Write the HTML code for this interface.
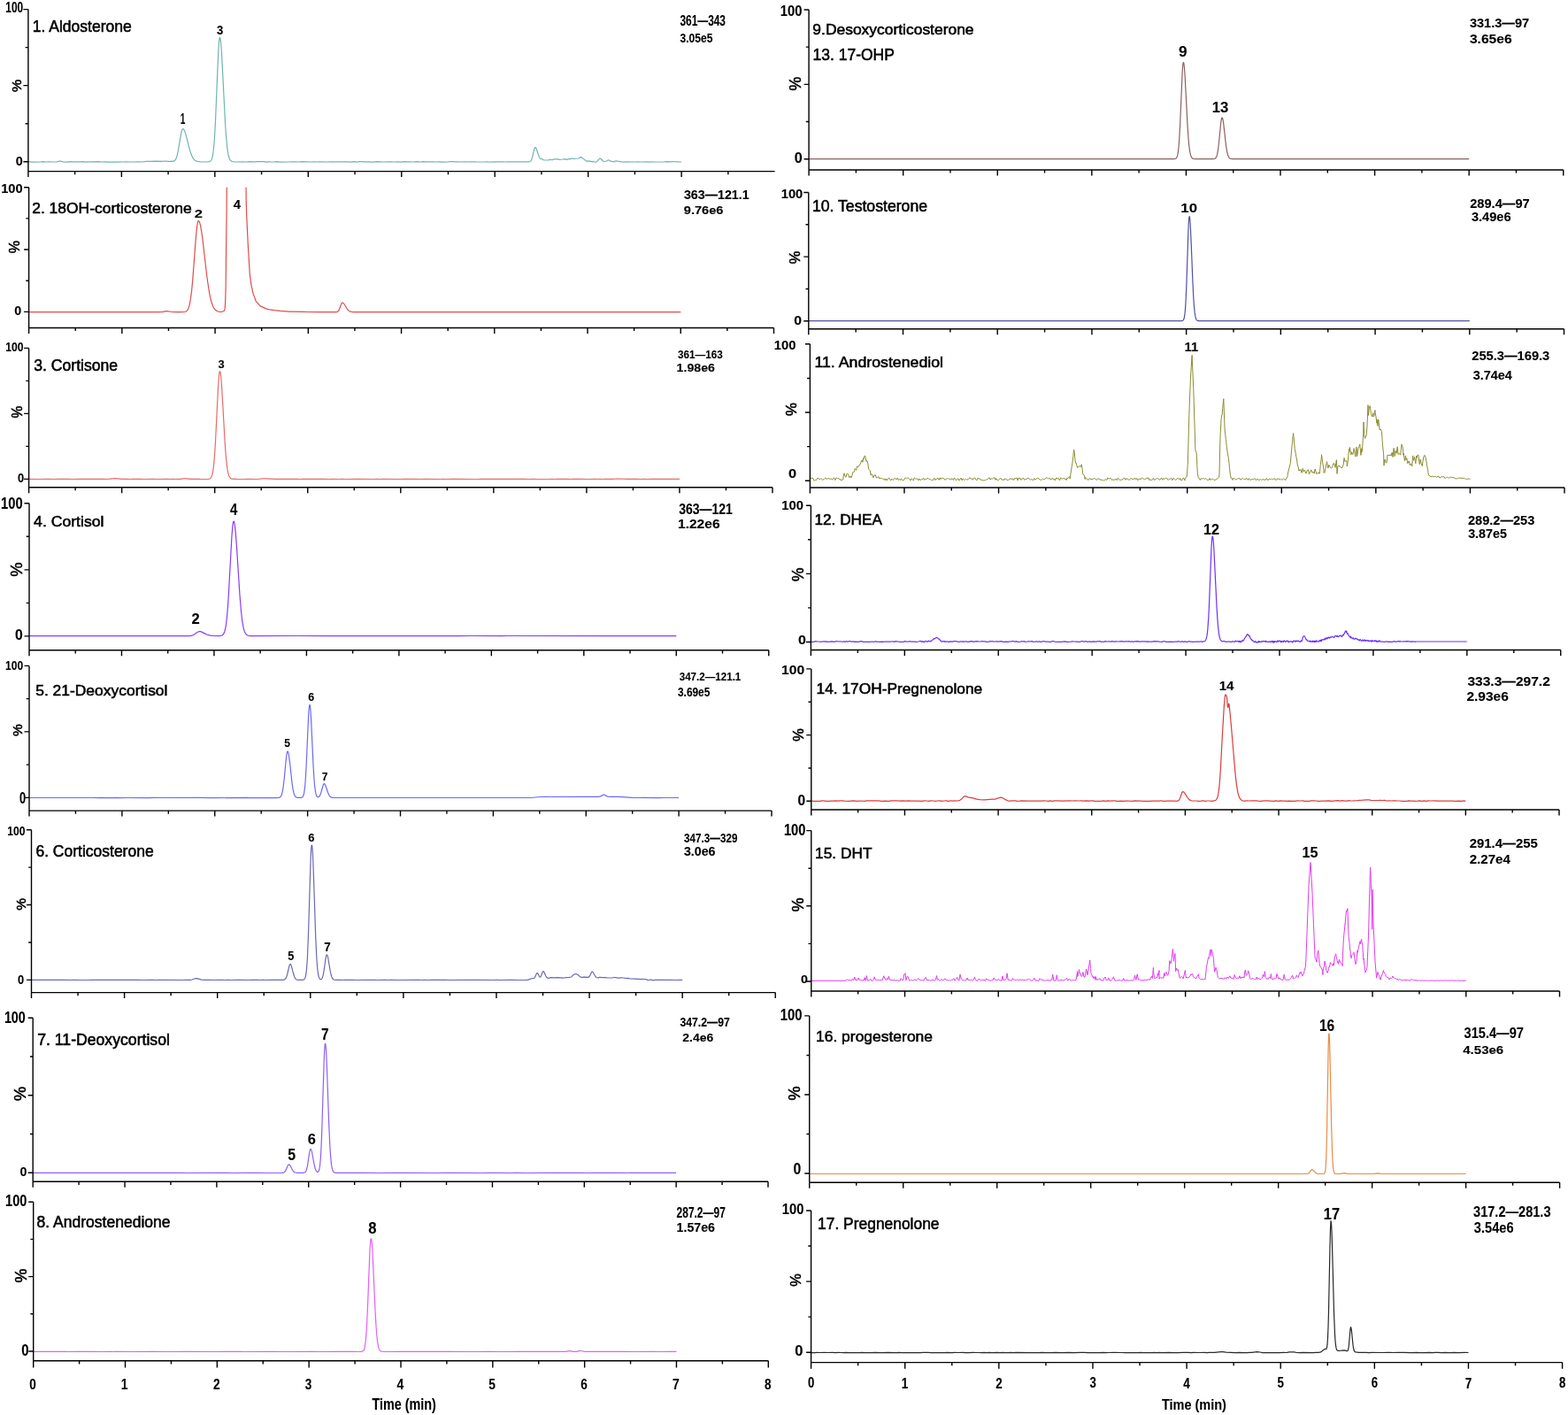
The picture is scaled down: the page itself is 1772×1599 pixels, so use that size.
<!DOCTYPE html><html><head><meta charset="utf-8"><title>Chromatograms</title><style>html,body{margin:0;padding:0;background:#fff}svg{display:block}text{font-family:"Liberation Sans",Arial,sans-serif;fill:#000}.r{font-weight:normal;stroke:#000;stroke-width:0.55px}.b{font-weight:bold;stroke:#000;stroke-width:0.1px}</style></head><body>
<svg width="1772" height="1599" viewBox="0 0 1772 1599"><rect width="1772" height="1599" fill="#fff"/>
<g>
<path d="M31.9,182.8 34.4,182.8 36.9,183.1 46.4,182.9 48.9,182.7 51.9,183.0 54.9,182.8 57.9,183.0 63.4,183.0 64.9,182.7 66.9,182.1 67.9,182.1 71.4,182.8 75.9,183.1 78.9,182.7 81.9,182.9 87.9,182.8 90.9,182.9 93.9,182.7 96.9,183.1 99.9,182.8 102.9,182.9 111.9,182.7 114.9,183.0 117.9,182.8 120.9,183.1 129.9,183.0 132.9,183.1 135.9,182.8 138.9,183.0 141.9,182.8 147.9,183.0 156.9,182.8 159.9,183.0 165.9,182.4 169.4,182.3 171.9,182.3 174.9,182.1 183.9,182.3 186.9,182.0 189.5,182.4 190.5,182.4 193.5,182.4 195.0,182.1 196.0,182.3 197.0,181.9 197.5,181.5 198.5,180.2 199.5,177.9 200.0,176.3 201.5,169.6 204.0,154.4 205.0,149.3 205.5,147.4 206.0,146.2 206.5,145.6 207.0,145.6 207.5,146.0 208.0,146.7 209.0,148.8 210.5,153.8 213.5,165.9 215.0,171.2 216.0,174.1 217.0,176.4 218.0,178.4 219.0,179.8 220.0,180.9 221.5,181.9 223.0,182.5 224.5,182.7 227.0,182.9 232.5,183.0 236.5,182.6 237.5,182.3 238.5,181.4 239.0,180.6 239.5,179.4 240.0,177.6 241.0,171.9 242.0,161.9 242.5,155.0 243.5,136.8 246.0,75.7 247.0,54.9 247.5,47.8 248.0,43.5 248.5,42.3 249.0,43.7 249.5,47.2 250.5,59.9 254.5,138.5 255.5,153.5 256.5,164.7 257.5,172.1 258.0,174.8 259.0,178.5 259.5,179.7 260.5,181.3 261.5,182.1 262.5,182.5 264.5,182.9 267.5,183.0 274.0,182.9 277.5,183.0 283.0,182.7 285.5,182.9 289.0,182.9 291.5,182.7 295.5,182.7 298.5,182.7 301.0,183.1 304.0,182.8 307.0,183.0 310.5,182.9 313.0,182.7 316.0,183.1 325.5,183.0 331.0,182.8 334.5,182.9 337.0,183.0 339.5,182.8 343.0,182.7 349.0,183.0 355.0,182.8 358.0,183.0 360.5,182.9 364.0,182.9 370.0,183.0 373.0,182.8 379.0,182.9 388.0,182.8 391.0,182.9 394.0,182.8 397.0,183.1 400.0,182.7 403.0,183.1 405.5,182.7 408.5,182.7 412.0,182.9 415.5,182.8 421.0,183.1 423.5,182.8 427.0,182.7 433.0,183.0 439.0,182.8 442.5,182.8 445.0,183.0 448.0,182.8 454.0,183.1 457.0,182.7 460.0,182.9 463.0,182.8 466.0,183.0 472.0,182.7 475.0,183.0 478.0,182.7 481.0,182.9 490.0,182.8 493.0,183.0 496.0,182.9 502.1,183.1 505.6,183.0 508.1,182.7 511.1,182.7 514.1,182.9 517.1,182.9 520.1,183.0 526.1,182.8 529.1,183.0 531.6,182.8 535.1,182.8 537.6,182.9 547.1,183.0 550.1,182.8 552.6,183.0 556.1,183.1 558.6,182.8 561.6,182.8 568.1,182.8 571.1,183.0 574.1,182.9 597.1,182.8 598.1,182.7 599.1,182.3 599.6,182.0 600.1,181.4 600.6,180.6 601.6,177.7 603.6,169.2 604.1,167.6 604.6,166.7 605.1,166.6 605.6,167.0 606.1,167.9 608.6,175.5 609.6,177.8 610.1,178.6 610.6,179.1 611.1,179.4 612.1,179.6 613.6,180.6 615.6,181.0 620.1,180.9 622.1,180.3 623.6,180.7 624.1,180.8 625.6,179.9 626.1,179.8 628.1,179.9 630.1,179.9 632.1,180.3 636.1,180.0 638.1,179.6 639.6,180.2 640.1,180.3 641.6,179.9 644.1,179.7 645.6,179.1 646.1,179.0 648.1,179.4 653.6,179.0 654.1,178.8 655.6,177.9 656.6,177.6 657.1,177.8 658.6,178.9 662.6,182.0 663.1,182.2 664.1,181.9 666.6,182.2 668.1,182.6 670.1,182.4 671.6,183.0 673.1,183.1 674.1,183.0 674.6,182.7 677.1,179.6 677.6,179.1 678.1,179.0 678.6,179.1 679.1,179.5 681.6,182.2 682.1,182.4 682.6,182.5 685.6,182.0 687.1,181.0 687.6,180.9 688.1,181.0 690.1,182.2 691.1,182.4 692.6,182.5 693.6,182.9 694.1,182.8 695.6,181.9 696.1,181.8 696.6,181.8 699.6,182.5 700.1,182.4 702.1,182.9 705.6,183.1 709.1,182.9 718.1,183.0 721.1,182.8 723.6,183.0 730.1,182.9 733.1,183.1 735.6,182.8 739.1,183.0 751.1,182.9 754.1,182.7 756.6,182.9 760.6,182.7 766.1,182.8 768.6,183.0 770.1,183.0" stroke="#72b2b2" stroke-width="1.2" fill="none" stroke-linejoin="round"/>
<path d="M31.9,10.6V193.6M26.4,10.6H31.9M28.6,53.64H31.9M26.4,96.67H31.9M28.6,139.71H31.9M26.4,182.75H31.9M31.9,193.6H875.6M31.9,193.6V200.1M84.63,193.6V197.2M137.36,193.6V200.1M190.09,193.6V197.2M242.83,193.6V200.1M295.56,193.6V197.2M348.29,193.6V200.1M401.02,193.6V197.2M453.75,193.6V200.1M506.48,193.6V197.2M559.21,193.6V200.1M611.94,193.6V197.2M664.68,193.6V200.1M717.41,193.6V197.2M770.14,193.6V200.1M822.87,193.6V197.2" stroke="#000" stroke-width="1.4" fill="none" stroke-linecap="butt"/>
<text class="b" x="6.36" y="13.74" font-size="15.83" textLength="19.83" lengthAdjust="spacingAndGlyphs">100</text>
<text class="r" transform="translate(18.65,97) rotate(-90)" x="-7.09" y="5.17" font-size="15" textLength="14.16" lengthAdjust="spacingAndGlyphs">%</text>
<text class="b" x="17.87" y="186.76" font-size="14.42" textLength="8.02" lengthAdjust="spacingAndGlyphs">0</text>
<text class="r" x="36.79" y="36.1" font-size="18.04" textLength="111.98" lengthAdjust="spacingAndGlyphs">1. Aldosterone</text>
<text class="b" x="768.48" y="28.55" font-size="15.85" textLength="51.46" lengthAdjust="spacingAndGlyphs">361—343</text>
<text class="b" x="768.48" y="47.81" font-size="15.49" textLength="36.87" lengthAdjust="spacingAndGlyphs">3.05e5</text>
<text class="b" x="203.77" y="140.2" font-size="16.73" textLength="5.62" lengthAdjust="spacingAndGlyphs">1</text>
<text class="b" x="245.01" y="38.71" font-size="15.49" textLength="7.27" lengthAdjust="spacingAndGlyphs">3</text>
</g>
<g>
<clipPath id="clip1"><rect x="32.6" y="211.7" width="900" height="400"/></clipPath>
<path d="M32.6,352.6 35.1,352.7 41.1,352.6 44.1,352.7 47.1,352.6 71.1,352.7 79.6,352.6 92.1,352.7 101.1,352.6 104.1,352.7 107.1,352.6 116.1,352.7 119.1,352.6 122.1,352.7 143.1,352.7 146.1,352.6 152.1,352.7 173.1,352.6 179.1,352.7 184.1,352.4 187.6,351.7 188.6,351.6 194.6,352.5 199.6,352.7 203.1,352.7 208.1,352.5 209.1,352.3 210.1,352.0 211.1,351.3 211.6,350.8 212.6,349.1 213.1,347.9 214.1,344.6 214.6,342.3 215.6,336.4 216.6,328.4 217.6,318.1 221.1,272.1 222.1,260.7 223.1,252.9 223.6,250.6 224.1,249.6 224.6,249.6 225.1,250.3 225.6,251.4 226.6,255.1 227.6,260.6 229.1,271.4 233.1,306.2 234.6,318.0 236.6,330.9 237.6,335.9 238.6,340.0 239.6,343.3 241.1,347.0 242.1,348.7 243.6,350.4 244.6,351.1 246.1,351.8 247.1,352.2 248.6,352.5 249.6,352.4 251.6,352.1 252.1,352.0 253.1,351.4 253.6,350.7 254.1,348.9 254.6,343.0 255.1,327.4 256.1,237.7 256.6,172.7 257.1,152.6 260.2,152.6 263.2,152.7 277.2,152.7 277.7,170.3 278.2,227.5 278.7,242.8 280.2,275.3 282.2,308.8 283.7,320.3 284.2,323.3 285.7,330.1 286.2,332.1 289.2,340.3 294.2,345.9 300.7,348.9 304.7,349.8 309.7,350.6 317.2,351.4 326.7,352.1 330.2,352.2 344.2,352.3 346.7,352.5 360.2,352.7 365.2,352.6 379.7,352.7 381.2,352.3 382.2,351.5 382.7,350.9 383.7,348.8 385.7,343.4 386.2,342.5 386.7,342.1 387.2,342.2 387.7,342.4 388.7,343.3 392.2,348.8 393.2,350.1 394.2,351.1 395.2,351.8 396.2,352.2 397.7,352.5 399.2,352.7 413.2,352.6 419.2,352.7 425.2,352.6 437.2,352.7 443.2,352.6 451.7,352.7 455.2,352.6 478.7,352.7 488.2,352.6 494.2,352.6 497.2,352.7 503.2,352.6 539.2,352.7 545.2,352.6 556.7,352.7 586.7,352.6 592.7,352.7 599.2,352.6 608.2,352.7 623.2,352.6 628.7,352.7 632.2,352.6 638.2,352.7 643.7,352.6 653.2,352.7 662.2,352.6 685.7,352.7 691.7,352.6 695.2,352.7 698.2,352.6 719.3,352.7 724.8,352.6 728.3,352.7 730.8,352.6 733.8,352.7 737.3,352.6 749.3,352.7 758.3,352.6 763.8,352.7 769.3,352.6" stroke="#e04c4c" stroke-width="1.2" fill="none" stroke-linejoin="round" clip-path="url(#clip1)"/>
<path d="M32.6,211.7V370.5M27.1,211.7H32.6M29.3,246.88H32.6M27.1,282.05H32.6M29.3,317.22H32.6M27.1,352.4H32.6M32.6,370.5H874.5M32.6,370.5V377M85.22,370.5V374.1M137.84,370.5V377M190.46,370.5V374.1M243.07,370.5V377M295.69,370.5V374.1M348.31,370.5V377M400.93,370.5V374.1M453.55,370.5V377M506.17,370.5V374.1M558.79,370.5V377M611.41,370.5V374.1M664.02,370.5V377M716.64,370.5V374.1M769.26,370.5V377M821.88,370.5V374.1M874.5,370.5V377" stroke="#000" stroke-width="1.4" fill="none" stroke-linecap="butt"/>
<text class="b" x="1.18" y="217.76" font-size="14.13" textLength="24.52" lengthAdjust="spacingAndGlyphs">100</text>
<text class="r" transform="translate(15.8,279.1) rotate(-90)" x="-7.18" y="5.91" font-size="17.14" textLength="14.35" lengthAdjust="spacingAndGlyphs">%</text>
<text class="b" x="16.33" y="356.36" font-size="13.99" textLength="7.96" lengthAdjust="spacingAndGlyphs">0</text>
<text class="r" x="36.23" y="240.6" font-size="17.16" textLength="180.43" lengthAdjust="spacingAndGlyphs">2. 18OH-corticosterone</text>
<text class="b" x="772.93" y="224.82" font-size="14.08" textLength="73.73" lengthAdjust="spacingAndGlyphs">363—121.1</text>
<text class="b" x="772.74" y="241.87" font-size="13.43" textLength="44.79" lengthAdjust="spacingAndGlyphs">9.76e6</text>
<text class="b" x="219.82" y="245.7" font-size="13.33" textLength="9.22" lengthAdjust="spacingAndGlyphs">2</text>
<text class="b" x="263.78" y="235.5" font-size="14.4" textLength="8.32" lengthAdjust="spacingAndGlyphs">4</text>
</g>
<g>
<path d="M32.6,541.4 42.1,541.5 54.1,541.4 60.1,541.5 66.1,541.3 78.1,541.3 81.1,541.5 89.6,541.3 93.1,541.4 96.1,541.3 108.1,541.3 113.6,541.4 117.1,541.3 120.1,541.5 124.6,541.2 130.6,540.7 137.6,541.4 144.1,541.3 147.1,541.5 150.1,541.3 159.1,541.3 162.1,541.5 174.1,541.3 177.1,541.5 189.1,541.3 191.6,541.5 195.1,541.3 198.1,541.5 200.6,541.3 204.1,541.4 207.6,540.9 210.1,540.8 216.1,541.4 219.1,541.3 222.1,541.4 225.1,541.3 227.6,541.5 233.6,541.5 235.6,541.4 237.1,541.0 238.1,540.2 238.6,539.5 239.6,537.2 240.6,532.8 241.6,525.3 242.6,513.6 243.6,497.2 246.6,436.3 247.6,423.3 248.1,420.2 248.6,419.6 249.1,421.2 249.6,424.8 250.6,436.8 254.1,498.7 255.1,512.9 256.1,523.6 257.1,530.9 257.6,533.6 258.6,537.2 259.1,538.5 260.1,540.0 261.1,540.8 262.1,541.2 266.6,541.4 276.1,541.5 279.5,541.3 290.5,541.5 297.0,540.9 300.0,540.8 311.5,541.4 330.0,541.3 333.0,541.4 336.0,541.3 339.0,541.5 342.0,541.4 348.0,541.4 366.0,541.3 372.0,541.5 375.0,541.3 383.5,541.5 387.0,541.3 390.0,541.5 405.0,541.3 423.0,541.5 426.0,541.3 429.0,541.5 432.0,541.3 453.0,541.5 456.0,541.4 459.0,541.4 468.0,541.3 477.0,541.5 480.0,541.4 498.0,541.5 501.0,541.3 504.0,541.5 516.0,541.4 534.0,541.5 540.0,541.5 543.0,541.3 555.0,541.4 567.0,541.3 570.0,541.4 576.0,541.4 588.0,541.3 594.0,541.3 597.0,541.5 603.0,541.3 606.0,541.5 621.0,541.5 624.0,541.4 627.0,541.5 630.0,541.3 633.0,541.4 642.0,541.3 645.0,541.5 648.0,541.3 654.0,541.3 666.0,541.5 672.0,541.4 675.0,541.5 678.0,541.4 681.0,541.5 684.0,541.3 691.5,541.3 699.0,541.0 708.5,541.3 720.5,541.3 723.0,541.5 729.0,541.3 732.0,541.5 735.0,541.3 756.0,541.3 768.0,541.4" stroke="#e66a6a" stroke-width="1.2" fill="none" stroke-linejoin="round"/>
<path d="M32.6,393.4V550.7M27.1,393.4H32.6M29.3,430.4H32.6M27.1,467.4H32.6M29.3,504.4H32.6M27.1,541.4H32.6M32.6,550.7H873M32.6,550.7V557.2M85.12,550.7V554.3M137.65,550.7V557.2M190.17,550.7V554.3M242.7,550.7V557.2M295.23,550.7V554.3M347.75,550.7V557.2M400.28,550.7V554.3M452.8,550.7V557.2M505.32,550.7V554.3M557.85,550.7V557.2M610.38,550.7V554.3M662.9,550.7V557.2M715.42,550.7V554.3M767.95,550.7V557.2M820.48,550.7V554.3M873,550.7V557.2" stroke="#000" stroke-width="1.4" fill="none" stroke-linecap="butt"/>
<text class="b" x="6.24" y="396.76" font-size="13.99" textLength="20.26" lengthAdjust="spacingAndGlyphs">100</text>
<text class="r" transform="translate(19.65,465.5) rotate(-90)" x="-6.92" y="5.57" font-size="16.14" textLength="13.82" lengthAdjust="spacingAndGlyphs">%</text>
<text class="b" x="19.89" y="545.46" font-size="13.71" textLength="7.14" lengthAdjust="spacingAndGlyphs">0</text>
<text class="r" x="38.14" y="418.9" font-size="17.75" textLength="95.04" lengthAdjust="spacingAndGlyphs">3. Cortisone</text>
<text class="b" x="765.99" y="405.34" font-size="13.03" textLength="50.7" lengthAdjust="spacingAndGlyphs">361—163</text>
<text class="b" x="764.61" y="420.37" font-size="13.07" textLength="43.4" lengthAdjust="spacingAndGlyphs">1.98e6</text>
<text class="b" x="246.41" y="415.75" font-size="12.39" textLength="7.15" lengthAdjust="spacingAndGlyphs">3</text>
</g>
<g>
<path d="M33.0,718.6 212.9,718.6 215.9,718.3 217.9,717.8 219.9,716.7 223.4,714.2 224.4,713.8 225.4,713.6 226.4,713.7 227.9,714.1 231.9,716.1 234.4,717.2 235.9,717.7 237.9,718.2 240.9,718.5 247.9,718.6 249.4,718.4 250.9,718.0 251.9,717.3 252.4,716.7 253.4,714.9 253.9,713.5 254.9,709.3 255.4,706.3 256.4,698.0 257.4,686.3 258.4,671.1 261.9,606.7 262.9,594.4 263.4,590.8 263.9,589.1 264.4,589.3 264.9,590.9 265.4,593.9 266.4,603.4 267.4,616.7 270.9,671.4 272.4,689.8 273.4,698.9 273.9,702.6 274.9,708.4 275.4,710.6 276.4,713.8 277.4,715.8 278.4,717.1 279.4,717.8 280.9,718.3 282.9,718.6 287.9,718.7 335.9,718.5 368.9,718.7 380.9,718.6 383.9,718.7 395.9,718.5 425.9,718.7 428.9,718.5 479.9,718.7 497.9,718.6 518.9,718.7 530.9,718.5 566.8,718.6 572.8,718.5 680.8,718.6 689.8,718.7 747.3,718.6 752.8,718.7 758.8,718.5 764.3,718.6" stroke="#873cfa" stroke-width="1.2" fill="none" stroke-linejoin="round"/>
<path d="M33,568.8V734.8M27.5,568.8H33M29.7,606.32H33M27.5,643.85H33M29.7,681.38H33M27.5,718.9H33M33,734.8H868.75M33,734.8V741.3M85.23,734.8V738.4M137.47,734.8V741.3M189.7,734.8V738.4M241.94,734.8V741.3M294.17,734.8V738.4M346.41,734.8V741.3M398.64,734.8V738.4M450.88,734.8V741.3M503.11,734.8V738.4M555.34,734.8V741.3M607.58,734.8V738.4M659.81,734.8V741.3M712.05,734.8V738.4M764.28,734.8V741.3M816.52,734.8V738.4M868.75,734.8V741.3" stroke="#000" stroke-width="1.4" fill="none" stroke-linecap="butt"/>
<text class="b" x="1.08" y="575.42" font-size="17.95" textLength="24.63" lengthAdjust="spacingAndGlyphs">100</text>
<text class="r" transform="translate(18.6,643.5) rotate(-90)" x="-8.15" y="6.6" font-size="19.14" textLength="16.29" lengthAdjust="spacingAndGlyphs">%</text>
<text class="b" x="16.97" y="723.14" font-size="15.97" textLength="8.78" lengthAdjust="spacingAndGlyphs">0</text>
<text class="r" x="38.1" y="594.7" font-size="17.16" textLength="79.37" lengthAdjust="spacingAndGlyphs">4. Cortisol</text>
<text class="b" x="767.18" y="581.05" font-size="15.85" textLength="60.73" lengthAdjust="spacingAndGlyphs">363—121</text>
<text class="b" x="766.03" y="597.36" font-size="14.13" textLength="47.53" lengthAdjust="spacingAndGlyphs">1.22e6</text>
<text class="b" x="259.88" y="582" font-size="18.18" textLength="8.32" lengthAdjust="spacingAndGlyphs">4</text>
<text class="b" x="216.42" y="705.3" font-size="16.63" textLength="9.22" lengthAdjust="spacingAndGlyphs">2</text>
</g>
<g>
<path d="M33.0,901.5 105.0,901.5 108.0,901.4 111.0,901.6 114.0,901.4 123.0,901.6 132.0,901.4 135.0,901.6 144.0,901.5 168.0,901.6 174.0,901.4 186.0,901.5 225.0,901.4 240.0,901.6 279.0,901.4 282.0,901.6 285.0,901.5 312.0,901.6 315.0,901.4 316.0,901.1 316.5,900.8 317.5,899.7 318.5,897.4 319.5,893.1 320.0,889.9 321.0,881.7 323.5,856.0 324.0,852.3 324.5,849.9 325.0,849.0 325.5,849.5 326.0,851.2 326.5,854.1 327.6,862.3 330.1,885.6 331.1,892.2 332.1,896.5 333.1,899.1 333.6,899.9 334.6,900.8 335.6,901.2 336.6,901.4 340.1,901.4 341.1,901.2 341.6,900.9 342.1,900.4 342.6,899.6 343.1,898.3 343.6,896.2 344.1,893.1 344.6,888.8 345.1,883.0 346.1,866.3 348.6,809.5 349.1,801.7 349.6,797.2 350.1,796.4 350.6,799.1 351.1,804.8 351.6,813.1 354.1,866.6 355.1,882.2 355.6,887.8 356.6,895.2 357.1,897.5 357.6,898.9 358.1,899.9 358.6,900.5 359.1,900.7 359.6,900.8 360.1,900.6 360.6,900.2 361.6,898.8 362.6,896.3 365.1,887.5 365.6,886.3 366.1,885.7 366.6,885.7 367.1,886.2 368.1,888.2 370.6,895.7 372.1,899.0 373.1,900.3 374.1,900.9 375.6,901.3 377.6,901.5 599.6,901.5 610.1,900.5 611.6,900.5 618.1,900.4 621.1,900.5 660.1,900.4 669.1,900.4 676.1,900.3 677.6,900.2 678.6,899.9 679.6,899.4 681.1,898.3 682.1,898.0 683.1,898.1 685.1,899.4 686.1,899.9 687.1,900.1 689.1,900.3 700.1,900.3 714.1,901.3 719.6,901.5 726.1,901.4 744.1,901.6 749.6,901.5 767.1,901.5" stroke="#6969fa" stroke-width="1.2" fill="none" stroke-linejoin="round"/>
<path d="M33,752.4V916.1M27.5,752.4H33M29.7,789.65H33M27.5,826.9H33M29.7,864.15H33M27.5,901.4H33M33,916.1H872M33,916.1V922.6M85.44,916.1V919.7M137.88,916.1V922.6M190.31,916.1V919.7M242.75,916.1V922.6M295.19,916.1V919.7M347.62,916.1V922.6M400.06,916.1V919.7M452.5,916.1V922.6M504.94,916.1V919.7M557.38,916.1V922.6M609.81,916.1V919.7M662.25,916.1V922.6M714.69,916.1V919.7M767.12,916.1V922.6M819.56,916.1V919.7M872,916.1V922.6" stroke="#000" stroke-width="1.4" fill="none" stroke-linecap="butt"/>
<text class="b" x="6.05" y="757.46" font-size="14.13" textLength="20.15" lengthAdjust="spacingAndGlyphs">100</text>
<text class="r" transform="translate(19.95,825) rotate(-90)" x="-6.9" y="5.27" font-size="15.29" textLength="13.79" lengthAdjust="spacingAndGlyphs">%</text>
<text class="b" x="21.89" y="907.82" font-size="17.53" textLength="7.14" lengthAdjust="spacingAndGlyphs">0</text>
<text class="r" x="40.2" y="786" font-size="17.16" textLength="149.26" lengthAdjust="spacingAndGlyphs">5. 21-Deoxycortisol</text>
<text class="b" x="767.74" y="769.33" font-size="13.38" textLength="69.58" lengthAdjust="spacingAndGlyphs">347.2—121.1</text>
<text class="b" x="765.98" y="787.32" font-size="14.08" textLength="36.36" lengthAdjust="spacingAndGlyphs">3.69e5</text>
<text class="b" x="321.24" y="844.47" font-size="12.62" textLength="6.71" lengthAdjust="spacingAndGlyphs">5</text>
<text class="b" x="348.23" y="792.07" font-size="12.86" textLength="6.92" lengthAdjust="spacingAndGlyphs">6</text>
<text class="b" x="363.78" y="881.7" font-size="13.24" textLength="6.75" lengthAdjust="spacingAndGlyphs">7</text>
</g>
<g>
<path d="M35.5,1107.4 51.0,1107.3 54.0,1107.4 72.0,1107.3 81.0,1107.5 84.0,1107.3 89.5,1107.5 99.0,1107.5 105.0,1107.3 126.0,1107.4 129.0,1107.3 138.0,1107.4 156.0,1107.3 162.0,1107.5 171.0,1107.3 177.0,1107.5 180.0,1107.3 207.0,1107.5 209.5,1107.3 213.0,1107.4 215.5,1107.3 217.0,1107.0 220.5,1105.8 222.0,1105.7 223.5,1105.9 227.5,1107.1 231.0,1107.4 237.0,1107.3 240.0,1107.5 249.0,1107.3 255.0,1107.5 258.0,1107.3 261.0,1107.5 270.0,1107.3 282.1,1107.5 284.6,1107.3 291.1,1107.3 293.6,1107.5 297.1,1107.3 300.1,1107.5 306.1,1107.4 319.6,1107.4 321.1,1107.2 322.1,1106.7 323.1,1105.5 323.6,1104.5 324.6,1101.5 326.6,1092.6 327.1,1090.8 327.6,1089.7 328.1,1089.4 328.6,1089.8 329.1,1090.9 329.6,1092.4 331.6,1100.3 332.6,1103.5 333.1,1104.6 334.1,1106.2 335.1,1107.0 336.6,1107.3 341.6,1107.4 343.1,1107.2 343.6,1106.9 344.1,1106.4 344.6,1105.5 345.1,1104.2 345.6,1102.0 346.1,1098.7 346.6,1093.9 347.1,1087.2 347.6,1078.2 348.6,1052.8 351.1,970.7 351.6,960.4 352.1,955.0 352.6,955.0 353.1,959.6 353.6,968.3 354.6,994.7 356.6,1055.5 357.6,1077.9 358.1,1086.2 358.6,1092.6 359.1,1097.3 359.6,1100.8 360.1,1103.2 360.6,1104.8 361.1,1105.8 361.6,1106.4 362.1,1106.7 362.6,1106.8 363.1,1106.6 363.6,1106.1 364.1,1105.3 364.6,1104.0 365.1,1102.2 366.1,1096.8 368.1,1082.7 368.6,1080.3 369.1,1079.1 369.6,1079.1 370.1,1080.1 370.6,1081.9 373.1,1096.7 374.1,1101.5 374.6,1103.2 375.6,1105.5 376.6,1106.7 377.6,1107.1 379.6,1107.4 384.1,1107.3 387.1,1107.5 390.1,1107.3 393.1,1107.4 399.1,1107.4 402.1,1107.5 423.1,1107.3 426.1,1107.5 435.1,1107.4 438.1,1107.5 441.1,1107.4 450.1,1107.5 472.1,1107.3 476.6,1107.5 480.1,1107.4 483.1,1107.5 489.1,1107.3 495.1,1107.4 504.1,1107.3 507.1,1107.5 534.1,1107.3 558.1,1107.5 561.1,1107.3 564.1,1107.5 579.1,1107.3 585.1,1107.5 595.6,1107.4 596.1,1107.3 599.6,1106.4 600.1,1106.0 601.6,1105.6 602.1,1105.5 603.1,1105.5 603.6,1105.4 604.1,1105.0 604.6,1104.3 606.1,1100.7 606.6,1099.8 607.1,1099.5 607.6,1099.8 608.1,1100.6 609.6,1103.7 610.1,1104.2 610.6,1104.1 611.1,1103.6 611.6,1102.5 613.1,1098.5 613.6,1097.8 614.1,1097.6 614.6,1098.0 615.1,1098.9 616.6,1102.6 617.6,1104.3 618.6,1105.1 619.6,1105.4 620.1,1105.4 621.6,1104.8 622.1,1104.7 626.1,1104.8 630.1,1104.7 636.1,1105.1 638.1,1105.0 640.1,1104.6 643.6,1104.4 645.6,1104.0 646.1,1103.7 648.1,1101.6 649.1,1101.0 650.6,1100.6 651.6,1100.7 652.6,1101.2 654.1,1102.3 655.6,1103.8 656.6,1104.3 658.1,1104.4 660.1,1104.2 664.6,1104.4 665.6,1103.9 666.6,1102.7 668.6,1098.4 669.1,1098.0 669.6,1098.1 670.1,1098.7 673.1,1103.7 673.6,1104.2 674.1,1104.5 675.6,1104.8 676.1,1104.9 677.6,1104.4 678.1,1104.3 680.1,1104.6 681.6,1104.5 684.1,1104.6 685.6,1104.9 692.1,1105.0 693.6,1104.5 694.1,1104.5 696.1,1104.6 698.1,1105.2 700.1,1105.2 702.1,1104.9 704.1,1105.0 708.1,1105.6 710.1,1105.4 711.6,1106.0 712.1,1106.0 718.1,1106.1 720.1,1106.4 721.6,1106.3 724.1,1106.6 725.6,1106.4 727.6,1106.5 730.1,1106.7 731.6,1107.4 732.1,1107.5 734.1,1107.5 735.6,1107.1 736.1,1107.1 737.6,1107.7 738.1,1107.8 740.1,1107.4 747.2,1107.4 750.2,1107.3 753.2,1107.4 756.2,1107.3 762.7,1107.5 771.2,1107.3" stroke="#6969b4" stroke-width="1.2" fill="none" stroke-linejoin="round"/>
<path d="M35.5,937.7V1121.6M30,937.7H35.5M32.2,980.12H35.5M30,1022.55H35.5M32.2,1064.98H35.5M30,1107.4H35.5M35.5,1121.6H876.25M35.5,1121.6V1128.1M88.05,1121.6V1125.2M140.59,1121.6V1128.1M193.14,1121.6V1125.2M245.69,1121.6V1128.1M298.23,1121.6V1125.2M350.78,1121.6V1128.1M403.33,1121.6V1125.2M455.88,1121.6V1128.1M508.42,1121.6V1125.2M560.97,1121.6V1128.1M613.52,1121.6V1125.2M666.06,1121.6V1128.1M718.61,1121.6V1125.2M771.16,1121.6V1128.1M823.7,1121.6V1125.2M876.25,1121.6V1128.1" stroke="#000" stroke-width="1.4" fill="none" stroke-linecap="butt"/>
<text class="b" x="8.24" y="943.74" font-size="15.55" textLength="20.26" lengthAdjust="spacingAndGlyphs">100</text>
<text class="r" transform="translate(23.4,1022) rotate(-90)" x="-6.87" y="5.22" font-size="15.14" textLength="13.72" lengthAdjust="spacingAndGlyphs">%</text>
<text class="b" x="19.89" y="1112.15" font-size="14.7" textLength="7.14" lengthAdjust="spacingAndGlyphs">0</text>
<text class="r" x="40.43" y="968.2" font-size="18.04" textLength="133.22" lengthAdjust="spacingAndGlyphs">6. Corticosterone</text>
<text class="b" x="772.99" y="951.81" font-size="15.14" textLength="60.43" lengthAdjust="spacingAndGlyphs">347.3—329</text>
<text class="b" x="772.93" y="966.82" font-size="14.08" textLength="35.57" lengthAdjust="spacingAndGlyphs">3.0e6</text>
<text class="b" x="325.32" y="1084.96" font-size="14.48" textLength="7.04" lengthAdjust="spacingAndGlyphs">5</text>
<text class="b" x="348.21" y="951.17" font-size="13.43" textLength="7.26" lengthAdjust="spacingAndGlyphs">6</text>
<text class="b" x="366.23" y="1075" font-size="14.84" textLength="7.46" lengthAdjust="spacingAndGlyphs">7</text>
</g>
<g>
<path d="M37.2,1325.4 166.2,1325.3 177.7,1325.4 183.7,1325.3 187.2,1325.4 205.2,1325.4 210.7,1325.5 241.2,1325.4 262.2,1325.5 289.2,1325.3 301.2,1325.5 318.2,1325.4 320.2,1325.2 321.2,1324.7 321.7,1324.3 322.2,1323.7 323.2,1321.9 325.2,1317.2 325.7,1316.4 326.2,1316.0 326.7,1315.9 327.2,1316.2 328.2,1317.6 330.2,1321.6 331.2,1323.2 331.7,1323.8 332.7,1324.6 333.7,1325.0 335.7,1325.4 342.7,1325.3 343.7,1325.2 344.7,1324.8 345.2,1324.3 345.7,1323.6 346.2,1322.4 347.2,1318.6 347.7,1315.9 349.2,1305.6 350.2,1300.0 350.7,1298.6 351.2,1298.4 351.7,1299.1 352.2,1300.6 352.7,1302.8 355.2,1316.5 356.2,1320.5 356.7,1321.9 357.7,1323.7 358.2,1324.2 358.7,1324.4 359.2,1324.4 359.7,1324.1 360.2,1323.3 360.7,1321.8 361.2,1319.4 361.7,1315.7 362.2,1310.2 362.7,1302.6 363.7,1279.9 366.2,1198.2 366.7,1186.8 367.2,1180.3 367.7,1179.3 368.2,1182.7 368.7,1189.9 369.2,1200.2 371.7,1269.9 372.7,1292.4 373.2,1301.0 374.2,1313.1 374.7,1317.0 375.2,1319.8 375.7,1321.8 376.2,1323.1 376.7,1324.0 377.2,1324.6 378.2,1325.1 379.7,1325.4 382.2,1325.4 409.2,1325.3 427.2,1325.5 454.2,1325.3 493.2,1325.5 507.7,1325.4 543.7,1325.5 556.2,1325.3 577.2,1325.5 583.2,1325.4 595.2,1325.5 625.2,1325.3 640.2,1325.4 658.2,1325.3 661.2,1325.5 672.7,1325.4 676.2,1325.4 703.2,1325.3 709.2,1325.5 712.2,1325.3 739.2,1325.4 764.1,1325.4" stroke="#8c5ffa" stroke-width="1.2" fill="none" stroke-linejoin="round"/>
<path d="M37.2,1150.2V1335.3M31.7,1150.2H37.2M33.9,1193.97H37.2M31.7,1237.75H37.2M33.9,1281.53H37.2M31.7,1325.3H37.2M37.2,1335.3H868M37.2,1335.3V1341.8M89.12,1335.3V1338.9M141.05,1335.3V1341.8M192.97,1335.3V1338.9M244.9,1335.3V1341.8M296.82,1335.3V1338.9M348.75,1335.3V1341.8M400.67,1335.3V1338.9M452.6,1335.3V1341.8M504.52,1335.3V1338.9M556.45,1335.3V1341.8M608.38,1335.3V1338.9M660.3,1335.3V1341.8M712.23,1335.3V1338.9M764.15,1335.3V1341.8M816.08,1335.3V1338.9M868,1335.3V1341.8" stroke="#000" stroke-width="1.4" fill="none" stroke-linecap="butt"/>
<text class="b" x="4.91" y="1155.91" font-size="18.52" textLength="23.88" lengthAdjust="spacingAndGlyphs">100</text>
<text class="r" transform="translate(22.35,1236) rotate(-90)" x="-8.1" y="6.26" font-size="18.14" textLength="16.19" lengthAdjust="spacingAndGlyphs">%</text>
<text class="b" x="22.53" y="1328.85" font-size="14.7" textLength="7.96" lengthAdjust="spacingAndGlyphs">0</text>
<text class="r" x="42.22" y="1181.3" font-size="17.45" textLength="149.67" lengthAdjust="spacingAndGlyphs">7. 11-Deoxycortisol</text>
<text class="b" x="768.48" y="1159.82" font-size="14.08" textLength="56.32" lengthAdjust="spacingAndGlyphs">347.2—97</text>
<text class="b" x="771.26" y="1177.37" font-size="13.43" textLength="34.98" lengthAdjust="spacingAndGlyphs">2.4e6</text>
<text class="b" x="325.22" y="1311.42" font-size="18.06" textLength="8.83" lengthAdjust="spacingAndGlyphs">5</text>
<text class="b" x="347.69" y="1292.83" font-size="16.96" textLength="9.11" lengthAdjust="spacingAndGlyphs">6</text>
<text class="b" x="362.94" y="1175" font-size="18.04" textLength="8.64" lengthAdjust="spacingAndGlyphs">7</text>
</g>
<g>
<path d="M37.7,1527.4 74.2,1527.4 77.2,1527.5 86.7,1527.3 92.2,1527.4 104.2,1527.3 116.2,1527.5 125.2,1527.3 127.7,1527.5 131.2,1527.4 146.2,1527.5 173.2,1527.4 191.2,1527.5 212.1,1527.4 242.1,1527.5 271.6,1527.4 275.1,1527.5 305.1,1527.4 326.1,1527.5 353.1,1527.4 359.1,1527.5 383.1,1527.4 395.1,1527.4 398.1,1527.3 404.1,1527.5 408.1,1527.4 409.6,1527.1 410.6,1526.4 411.1,1525.7 411.6,1524.6 412.1,1522.8 412.6,1520.2 413.1,1516.5 414.1,1504.9 414.6,1496.5 415.6,1474.4 417.6,1421.4 418.1,1410.9 418.6,1403.5 419.1,1399.8 419.6,1399.8 420.1,1402.9 420.6,1408.7 421.1,1416.8 424.1,1482.6 425.1,1499.8 425.6,1506.5 426.6,1516.2 427.6,1522.0 428.1,1523.7 428.6,1525.0 429.1,1525.8 429.6,1526.4 430.6,1527.0 431.6,1527.2 433.1,1527.4 439.6,1527.5 452.1,1527.4 500.1,1527.4 503.1,1527.3 530.0,1527.5 554.0,1527.4 566.0,1527.5 587.0,1527.4 635.0,1527.4 639.5,1527.3 642.5,1526.7 643.5,1526.6 644.5,1526.7 647.5,1527.3 650.0,1527.4 651.5,1527.3 654.5,1526.6 655.5,1526.4 656.5,1526.5 659.5,1527.2 662.0,1527.4 692.0,1527.4 704.0,1527.3 719.0,1527.5 737.0,1527.4 746.0,1527.5 755.0,1527.4 764.5,1527.4" stroke="#e15ffa" stroke-width="1.2" fill="none" stroke-linejoin="round"/>
<path d="M37.7,1358.2V1537.8M32.2,1358.2H37.7M34.4,1400.4H37.7M32.2,1442.6H37.7M34.4,1484.8H37.7M32.2,1527H37.7M37.7,1537.8H868.3M37.7,1537.8V1545.4M89.61,1537.8V1541.4M141.52,1537.8V1545.4M193.44,1537.8V1541.4M245.35,1537.8V1545.4M297.26,1537.8V1541.4M349.17,1537.8V1545.4M401.09,1537.8V1541.4M453,1537.8V1545.4M504.91,1537.8V1541.4M556.83,1537.8V1545.4M608.74,1537.8V1541.4M660.65,1537.8V1545.4M712.56,1537.8V1541.4M764.47,1537.8V1545.4M816.39,1537.8V1541.4M868.3,1537.8V1545.4" stroke="#000" stroke-width="1.4" fill="none" stroke-linecap="butt"/>
<text class="b" x="6.09" y="1363.22" font-size="18.09" textLength="24.31" lengthAdjust="spacingAndGlyphs">100</text>
<text class="r" transform="translate(23.9,1441.6) rotate(-90)" x="-7.9" y="6.51" font-size="18.86" textLength="15.79" lengthAdjust="spacingAndGlyphs">%</text>
<text class="b" x="24.2" y="1531.82" font-size="17.53" textLength="8.31" lengthAdjust="spacingAndGlyphs">0</text>
<text class="r" x="41.45" y="1386.8" font-size="18.47" textLength="151.11" lengthAdjust="spacingAndGlyphs">8. Androstenedione</text>
<text class="b" x="764.58" y="1376.09" font-size="15.9" textLength="55.21" lengthAdjust="spacingAndGlyphs">287.2—97</text>
<text class="b" x="764.61" y="1392.36" font-size="14.13" textLength="43.4" lengthAdjust="spacingAndGlyphs">1.57e6</text>
<text class="b" x="416.16" y="1393.52" font-size="17.95" textLength="9.26" lengthAdjust="spacingAndGlyphs">8</text>
</g>
<g>
<path d="M914.1,179.6 1088.1,179.6 1103.1,179.6 1124.1,179.6 1169.1,179.6 1223.1,179.6 1226.1,179.6 1277.1,179.6 1289.1,179.6 1307.1,179.6 1313.1,179.6 1326.1,179.6 1328.1,179.5 1329.1,178.9 1329.6,178.4 1330.1,177.4 1330.6,175.9 1331.1,173.6 1331.6,170.3 1332.1,165.5 1332.6,159.2 1333.6,141.3 1336.1,82.4 1336.6,74.8 1337.1,70.8 1337.6,70.6 1338.1,73.2 1338.6,78.2 1339.1,85.3 1342.1,143.1 1343.1,157.7 1343.6,163.3 1344.6,171.1 1345.6,175.6 1346.1,176.9 1347.1,178.5 1347.6,179.0 1348.6,179.4 1351.1,179.6 1371.1,179.6 1372.1,179.5 1373.1,179.2 1374.1,178.3 1374.6,177.4 1375.1,176.2 1375.6,174.4 1376.6,168.8 1377.6,160.3 1379.6,139.7 1380.1,135.9 1380.6,133.6 1381.1,132.9 1381.6,133.6 1382.1,135.6 1382.6,138.6 1385.1,160.8 1386.1,168.3 1386.6,171.1 1387.6,175.3 1388.6,177.6 1389.6,178.8 1390.1,179.1 1391.1,179.4 1393.6,179.6 1406.1,179.6 1409.1,179.6 1660.2,179.6" stroke="#8c6060" stroke-width="1.2" fill="none" stroke-linejoin="round"/>
<path d="M914.1,11V192M908.6,11H914.1M910.8,53.17H914.1M908.6,95.35H914.1M910.8,137.52H914.1M908.6,179.7H914.1M914.1,192H1766.75M914.1,192V198.5M967.39,192V195.6M1020.68,192V198.5M1073.97,192V195.6M1127.26,192V198.5M1180.55,192V195.6M1233.84,192V198.5M1287.13,192V195.6M1340.42,192V198.5M1393.72,192V195.6M1447.01,192V198.5M1500.3,192V195.6M1553.59,192V198.5M1606.88,192V195.6M1660.17,192V198.5M1713.46,192V195.6M1766.75,192V198.5" stroke="#000" stroke-width="1.4" fill="none" stroke-linecap="butt"/>
<text class="b" x="881.77" y="18.03" font-size="17.1" textLength="24.73" lengthAdjust="spacingAndGlyphs">100</text>
<text class="r" transform="translate(898.55,94.5) rotate(-90)" x="-7.88" y="6.26" font-size="18.14" textLength="15.75" lengthAdjust="spacingAndGlyphs">%</text>
<text class="b" x="897.65" y="183.83" font-size="16.54" textLength="9.02" lengthAdjust="spacingAndGlyphs">0</text>
<text class="r" x="918.37" y="38.9" font-size="16.73" textLength="182.2" lengthAdjust="spacingAndGlyphs">9.Desoxycorticosterone</text>
<text class="r" x="918.49" y="67.7" font-size="18.47" textLength="92.44" lengthAdjust="spacingAndGlyphs">13. 17-OHP</text>
<text class="b" x="1660.92" y="31.06" font-size="15.14" textLength="67.23" lengthAdjust="spacingAndGlyphs">331.3—97</text>
<text class="b" x="1660.9" y="49.32" font-size="14.08" textLength="47.66" lengthAdjust="spacingAndGlyphs">3.65e6</text>
<text class="b" x="1331.99" y="64.14" font-size="15.97" textLength="9.63" lengthAdjust="spacingAndGlyphs">9</text>
<text class="b" x="1369.66" y="126.8" font-size="15.92" textLength="18.57" lengthAdjust="spacingAndGlyphs">13</text>
</g>
<g>
<path d="M913.8,362.7 1327.8,362.7 1334.8,362.7 1336.3,362.5 1336.8,362.2 1337.3,361.7 1337.8,360.8 1338.3,359.1 1338.8,356.2 1339.3,351.8 1339.8,345.2 1340.8,324.4 1342.8,263.3 1343.3,251.9 1343.8,245.3 1344.3,244.5 1344.8,248.0 1345.3,255.2 1346.3,277.5 1347.8,316.2 1348.8,336.5 1349.3,344.0 1349.8,349.9 1350.3,354.2 1350.8,357.2 1351.3,359.3 1351.8,360.7 1352.3,361.6 1352.8,362.1 1353.3,362.4 1354.8,362.7 1360.8,362.7 1363.8,362.7 1426.8,362.7 1471.8,362.7 1484.3,362.7 1498.8,362.7 1513.8,362.7 1660.8,362.7" stroke="#5050a8" stroke-width="1.2" fill="none" stroke-linejoin="round"/>
<path d="M913.8,217.5V371.8M908.3,217.5H913.8M910.5,253.82H913.8M908.3,290.15H913.8M910.5,326.48H913.8M908.3,362.8H913.8M913.8,371.8H1767.5M913.8,371.8V378.3M967.16,371.8V375.4M1020.51,371.8V378.3M1073.87,371.8V375.4M1127.22,371.8V378.3M1180.58,371.8V375.4M1233.94,371.8V378.3M1287.29,371.8V375.4M1340.65,371.8V378.3M1394.01,371.8V375.4M1447.36,371.8V378.3M1500.72,371.8V375.4M1554.08,371.8V378.3M1607.43,371.8V375.4M1660.79,371.8V378.3M1714.14,371.8V375.4M1767.5,371.8V378.3" stroke="#000" stroke-width="1.4" fill="none" stroke-linecap="butt"/>
<text class="b" x="882.68" y="223.7" font-size="15.48" textLength="24.63" lengthAdjust="spacingAndGlyphs">100</text>
<text class="r" transform="translate(898.2,290.85) rotate(-90)" x="-7.33" y="5.91" font-size="17.14" textLength="14.65" lengthAdjust="spacingAndGlyphs">%</text>
<text class="b" x="897.27" y="366.85" font-size="14.7" textLength="8.78" lengthAdjust="spacingAndGlyphs">0</text>
<text class="r" x="917.88" y="239.3" font-size="17.75" textLength="130.19" lengthAdjust="spacingAndGlyphs">10. Testosterone</text>
<text class="b" x="1661.24" y="235.35" font-size="14.84" textLength="67.42" lengthAdjust="spacingAndGlyphs">289.4—97</text>
<text class="b" x="1662.92" y="250.32" font-size="14.08" textLength="44.61" lengthAdjust="spacingAndGlyphs">3.49e6</text>
<text class="b" x="1334.35" y="239.95" font-size="14.84" textLength="18.66" lengthAdjust="spacingAndGlyphs">10</text>
</g>
<g>
<path d="M915.4,541.5 916.6,540.0 918.9,540.5 919.7,542.9 920.8,543.1 921.7,542.3 922.7,542.5 924.0,540.0 926.2,541.8 927.3,540.9 928.4,541.2 929.8,542.3 931.0,541.7 931.8,540.7 932.9,539.9 934.2,541.5 935.2,540.8 936.0,540.5 937.2,541.1 938.3,541.3 939.3,540.7 940.5,542.3 941.4,540.8 942.5,539.8 943.8,542.7 945.2,539.8 946.5,540.7 947.9,540.6 949.1,542.2 950.1,541.6 951.1,543.1 952.3,541.5 952.9,541.9 953.1,538.6 954.0,534.8 954.5,536.8 955.0,538.3 956.0,539.2 956.6,535.9 957.8,535.3 958.3,535.5 958.9,537.2 960.0,539.6 960.1,538.4 960.9,539.5 961.5,537.9 962.2,539.6 963.0,537.3 963.2,536.1 964.0,533.3 964.7,533.5 965.2,533.4 966.3,529.5 967.3,531.1 968.0,530.9 968.4,527.1 970.2,527.4 971.6,524.8 972.2,524.8 972.4,524.4 973.5,520.6 974.3,519.9 974.9,522.2 975.7,517.5 976.6,518.2 976.9,515.2 977.8,515.3 979.0,521.7 979.7,520.6 980.4,521.8 981.8,530.3 982.5,531.3 983.3,531.8 984.0,536.7 984.5,535.7 985.4,535.9 986.7,539.5 987.2,539.5 988.1,537.0 989.4,536.7 990.4,540.1 990.7,539.3 991.5,539.7 992.9,538.7 994.0,541.1 995.1,540.1 995.8,540.7 996.4,540.3 997.2,540.8 998.5,542.0 999.3,541.0 1000.0,541.2 1000.1,542.7 1001.3,541.0 1002.2,543.0 1003.6,540.7 1004.7,540.1 1006.7,543.1 1007.8,541.2 1008.6,542.0 1009.5,542.7 1010.4,540.9 1011.6,540.3 1012.9,542.0 1014.2,540.2 1015.2,542.3 1016.4,541.5 1017.3,542.7 1018.4,540.8 1019.2,542.3 1020.3,542.8 1021.5,542.7 1022.6,540.1 1023.7,540.1 1024.6,540.9 1025.6,540.0 1026.7,540.5 1028.0,541.4 1028.9,543.1 1030.0,540.9 1031.0,541.4 1032.3,543.1 1033.2,539.8 1034.6,541.2 1035.5,540.8 1036.7,541.0 1037.8,543.0 1038.9,541.0 1040.2,542.8 1041.4,541.3 1042.5,541.8 1043.7,540.2 1044.7,542.4 1045.6,541.6 1046.9,541.3 1048.2,540.5 1049.3,540.8 1050.1,541.7 1051.4,541.6 1052.4,542.5 1053.7,542.7 1054.5,542.6 1055.6,540.2 1056.9,542.6 1057.8,541.2 1058.6,541.6 1059.9,540.1 1061.2,542.4 1062.2,539.9 1063.1,541.7 1064.2,539.9 1065.2,540.5 1066.1,540.6 1067.1,541.0 1068.2,542.5 1069.1,541.3 1070.5,540.9 1071.5,540.6 1072.7,541.5 1073.6,541.0 1074.7,542.3 1075.7,540.5 1076.5,541.2 1077.5,542.7 1078.4,539.9 1079.6,541.2 1080.5,543.0 1081.5,542.1 1082.7,540.6 1083.8,543.1 1084.8,541.8 1086.0,540.0 1087.2,543.0 1088.1,540.9 1089.4,542.0 1090.3,542.4 1091.5,541.3 1092.7,542.0 1094.0,541.9 1095.1,540.5 1096.1,539.8 1097.0,541.0 1098.3,541.1 1099.4,542.3 1100.3,540.2 1101.8,540.1 1102.7,542.0 1103.9,542.9 1104.9,540.3 1107.2,541.2 1108.0,541.1 1108.9,542.6 1110.2,542.6 1111.2,543.0 1112.2,542.6 1113.4,543.0 1114.5,541.9 1115.4,542.0 1116.3,541.0 1117.2,540.4 1118.2,539.9 1119.1,542.1 1120.0,540.8 1121.4,541.1 1122.8,539.9 1124.2,539.9 1125.0,542.4 1125.8,540.7 1127.1,542.7 1128.4,542.7 1129.7,541.1 1131.0,540.4 1132.0,542.0 1133.1,541.9 1134.0,542.9 1135.0,540.9 1135.9,541.5 1136.8,541.0 1138.0,542.6 1139.4,542.5 1140.3,541.8 1141.6,541.4 1142.5,540.1 1143.4,542.0 1144.8,541.0 1145.7,542.7 1146.6,540.5 1147.8,540.8 1148.9,539.9 1150.1,542.9 1151.0,539.9 1152.0,540.7 1152.9,540.4 1154.1,542.5 1155.5,540.8 1156.4,539.9 1157.6,542.3 1158.6,541.8 1160.0,541.3 1161.1,540.6 1162.2,540.1 1163.4,541.8 1164.4,542.2 1165.4,541.7 1166.7,541.9 1167.7,543.0 1168.9,540.5 1170.3,542.2 1171.6,540.5 1172.7,540.1 1174.0,541.0 1175.2,542.0 1176.2,542.3 1177.4,542.1 1178.7,541.1 1179.5,541.8 1180.9,541.4 1182.2,539.8 1183.5,540.1 1184.5,541.0 1185.8,540.1 1187.1,542.0 1188.5,541.7 1189.3,540.2 1190.7,542.2 1191.7,541.1 1192.5,543.1 1193.6,539.9 1195.4,541.1 1196.3,540.4 1197.5,542.9 1198.7,539.9 1199.5,540.9 1200.7,541.2 1201.8,540.4 1203.0,541.3 1204.0,540.8 1205.0,542.0 1205.2,542.7 1206.0,540.0 1207.0,540.6 1208.2,538.7 1209.2,539.6 1209.2,540.9 1211.3,526.5 1211.5,526.5 1212.9,515.5 1213.5,508.2 1214.1,509.8 1215.0,520.0 1215.6,523.1 1216.0,522.9 1216.8,525.8 1217.7,528.5 1218.2,528.1 1219.2,526.7 1220.5,527.0 1221.3,527.7 1222.0,525.2 1222.3,524.8 1223.1,529.4 1223.5,534.5 1224.1,536.4 1225.5,537.2 1226.3,541.6 1226.3,539.5 1227.1,539.7 1229.4,542.4 1230.0,542.5 1230.6,541.1 1231.8,540.5 1232.8,542.0 1236.5,540.7 1237.9,541.1 1239.3,542.6 1240.6,540.9 1241.9,541.0 1243.0,541.6 1244.0,542.5 1245.1,542.0 1246.5,543.0 1247.3,542.6 1248.4,542.9 1249.5,541.5 1250.8,542.7 1251.8,539.9 1253.1,541.3 1254.1,540.4 1255.2,540.5 1256.3,542.3 1257.2,542.0 1259.6,542.4 1260.9,541.0 1262.3,542.8 1263.4,540.2 1264.4,541.2 1265.6,542.6 1266.6,542.4 1267.9,542.0 1269.0,541.8 1269.8,540.3 1270.8,540.3 1271.8,542.3 1272.7,540.7 1274.1,541.2 1275.4,542.0 1276.5,542.4 1277.8,540.5 1278.7,540.7 1279.9,541.8 1281.3,541.6 1282.4,539.9 1283.6,542.0 1284.7,540.5 1285.8,542.8 1287.1,541.2 1288.2,541.1 1289.1,541.8 1290.4,539.9 1291.6,540.9 1292.5,541.2 1293.7,541.9 1295.1,540.9 1296.0,539.9 1297.0,540.6 1298.1,540.0 1299.0,542.8 1300.0,541.7 1301.3,542.7 1302.3,542.2 1303.5,540.3 1304.4,542.8 1305.4,541.5 1306.4,541.3 1307.4,540.5 1308.3,540.8 1309.2,540.8 1310.6,542.5 1311.5,541.2 1312.4,540.2 1313.6,542.4 1314.4,540.4 1315.4,541.5 1317.5,540.2 1318.7,540.4 1320.1,542.5 1321.4,541.2 1322.3,541.3 1323.7,540.4 1324.8,542.7 1326.1,540.4 1327.4,541.3 1328.7,542.6 1329.7,541.1 1330.5,540.6 1331.4,540.3 1332.8,542.0 1333.7,540.4 1334.9,543.1 1335.7,542.8 1336.8,540.5 1337.6,540.0 1339.0,543.0 1339.0,541.8 1340.0,539.5 1341.3,538.7 1342.2,525.8 1342.3,525.6 1343.8,469.4 1344.4,453.0 1345.8,420.7 1347.1,401.4 1348.8,440.8 1350.9,508.7 1352.1,511.5 1353.3,534.2 1354.1,539.3 1354.4,539.9 1355.3,541.1 1356.0,540.9 1356.3,542.5 1357.3,540.7 1358.7,541.1 1359.6,540.6 1360.5,540.7 1361.6,541.6 1362.7,540.4 1363.6,541.6 1364.8,542.5 1365.9,542.5 1367.2,540.4 1368.0,542.6 1369.3,541.3 1370.5,541.4 1371.5,542.1 1372.8,542.6 1375.1,541.3 1376.0,540.5 1376.2,540.6 1377.3,539.3 1377.9,538.1 1379.0,493.4 1380.1,473.5 1380.8,469.0 1381.2,468.9 1381.7,461.5 1382.8,450.6 1384.1,486.5 1384.3,486.3 1385.3,496.5 1385.6,498.1 1386.2,504.4 1387.4,512.9 1388.5,518.9 1389.0,523.3 1389.5,529.7 1390.5,537.4 1391.1,540.2 1391.6,539.6 1393.0,542.5 1393.0,541.0 1394.3,540.5 1395.1,540.7 1396.3,542.1 1397.4,541.7 1398.5,541.0 1399.8,540.7 1401.1,540.8 1402.0,542.2 1404.4,540.5 1405.5,541.5 1406.8,541.6 1407.8,541.4 1409.1,540.5 1410.5,542.5 1411.4,540.6 1412.7,542.3 1413.9,542.1 1415.1,541.6 1416.1,541.8 1417.3,541.0 1418.5,540.9 1419.4,542.7 1420.2,542.3 1421.3,540.9 1422.7,542.7 1424.7,541.6 1425.6,542.5 1427.0,541.6 1428.0,542.1 1428.8,541.9 1430.0,542.6 1431.3,540.5 1432.5,542.5 1433.3,542.6 1434.2,540.9 1435.4,541.7 1436.4,541.2 1437.5,541.9 1438.7,541.2 1439.9,541.2 1440.7,540.7 1441.6,542.4 1442.9,542.1 1444.2,540.5 1445.0,541.6 1446.3,541.1 1447.3,542.1 1448.3,541.9 1449.2,542.1 1450.6,541.0 1451.8,541.9 1453.0,542.6 1453.0,542.0 1454.2,539.7 1455.0,539.3 1455.2,536.3 1456.6,529.8 1458.3,523.7 1460.1,503.1 1460.5,499.8 1461.0,493.8 1461.6,489.5 1463.3,507.7 1464.8,515.8 1465.8,521.1 1466.0,524.0 1467.2,527.8 1468.1,532.2 1468.2,530.7 1469.1,531.8 1470.0,530.5 1470.1,531.6 1471.2,534.4 1472.2,529.4 1473.2,533.0 1474.2,531.1 1475.0,532.6 1475.9,535.2 1477.2,531.7 1478.4,530.8 1479.4,535.8 1481.8,530.9 1482.8,534.1 1484.2,533.3 1485.2,535.2 1486.1,530.0 1487.9,535.6 1489.1,534.9 1490.0,533.8 1490.1,535.0 1491.2,534.1 1491.3,535.2 1492.3,525.3 1493.5,515.9 1493.5,513.7 1495.9,531.0 1496.0,534.3 1497.0,534.0 1499.5,521.7 1500.8,529.0 1501.9,525.4 1503.3,528.3 1504.6,529.2 1505.8,527.2 1506.9,523.7 1508.0,524.0 1509.0,528.3 1510.4,519.7 1511.0,535.4 1511.8,526.9 1513.0,526.4 1513.1,526.9 1514.2,526.5 1515.5,528.6 1516.9,528.5 1518.2,525.1 1519.0,517.4 1519.9,521.6 1521.2,520.6 1522.0,520.9 1522.3,527.0 1523.2,521.7 1524.5,507.3 1525.0,510.3 1525.4,505.4 1526.7,514.1 1527.6,510.8 1528.7,513.6 1529.5,511.6 1530.0,506.6 1530.6,508.9 1531.8,516.2 1532.9,505.2 1533.7,515.6 1534.9,506.7 1535.9,504.6 1536.8,502.0 1537.9,514.4 1539.0,506.6 1539.3,510.5 1540.7,490.3 1541.0,476.9 1541.7,491.9 1542.7,495.4 1543.0,493.0 1544.0,493.0 1545.0,482.2 1546.0,457.7 1546.4,469.4 1547.3,459.8 1548.2,458.7 1549.5,467.4 1550.6,470.8 1551.9,466.6 1552.0,471.0 1552.8,470.2 1554.0,463.5 1554.0,465.9 1555.0,471.0 1555.9,478.2 1556.0,473.8 1556.8,481.4 1557.8,474.0 1559.0,485.6 1560.1,484.8 1561.5,487.7 1562.5,503.1 1563.6,513.1 1564.0,526.1 1564.9,519.0 1566.2,522.9 1567.0,522.8 1567.2,522.1 1568.0,514.3 1569.1,514.3 1570.0,515.0 1571.3,513.8 1572.2,515.1 1573.1,511.3 1574.1,516.5 1575.1,506.3 1576.2,515.6 1577.1,509.4 1578.2,512.3 1579.2,504.8 1580.1,513.6 1581.5,512.3 1582.7,514.2 1584.0,502.1 1585.3,506.1 1586.0,514.2 1586.2,512.2 1587.4,520.7 1588.5,514.9 1589.0,519.9 1589.8,517.8 1590.7,523.7 1592.1,520.9 1593.5,526.0 1594.6,523.9 1595.8,526.8 1596.7,514.9 1597.0,517.9 1597.6,520.3 1598.5,516.5 1599.0,518.9 1599.8,523.8 1600.7,515.1 1601.0,517.4 1601.8,514.6 1602.9,513.9 1604.2,524.6 1605.2,519.1 1606.0,523.2 1607.2,526.6 1608.2,520.1 1609.1,515.3 1610.3,514.5 1611.3,517.8 1612.6,525.9 1613.6,531.3 1614.5,537.0 1615.0,537.2 1616.1,538.0 1617.0,538.4 1617.3,539.2 1618.2,537.9 1619.3,538.6 1620.2,538.6 1621.2,538.7 1622.4,538.2 1623.7,539.5 1624.7,538.1 1625.9,538.2 1626.9,540.0 1628.2,539.4 1629.1,538.7 1630.5,538.8 1631.4,538.6 1632.0,538.7 1632.4,540.2 1633.6,540.4 1634.7,539.5 1635.7,539.1 1636.7,540.2 1637.6,540.2 1638.6,539.3 1639.6,539.3 1640.8,539.4 1641.8,539.6 1643.0,539.4 1644.1,540.9 1645.3,540.7 1646.3,541.1 1647.5,540.2 1648.6,540.3 1649.8,540.1 1650.9,540.3 1652.0,540.0 1653.1,540.8 1654.3,540.2 1655.5,541.1 1656.5,541.0 1657.7,541.7 1658.9,541.2 1660.0,540.7 1660.0,540.8 1661.4,541.8" stroke="#8c8c32" stroke-width="1.0" fill="none" stroke-linejoin="round"/>
<path d="M915.4,388.8V551M909.9,388.8H915.4M912.1,427.43H915.4M909.9,466.05H915.4M912.1,504.67H915.4M909.9,543.3H915.4M915.4,551H1768M915.4,551V557.5M968.69,551V554.6M1021.98,551V557.5M1075.26,551V554.6M1128.55,551V557.5M1181.84,551V554.6M1235.12,551V557.5M1288.41,551V554.6M1341.7,551V557.5M1394.99,551V554.6M1448.28,551V557.5M1501.56,551V554.6M1554.85,551V557.5M1608.14,551V554.6M1661.42,551V557.5M1714.71,551V554.6M1768,551V557.5" stroke="#000" stroke-width="1.4" fill="none" stroke-linecap="butt"/>
<text class="b" x="874.87" y="394.65" font-size="15.41" textLength="24.73" lengthAdjust="spacingAndGlyphs">100</text>
<text class="r" transform="translate(894.1,462.4) rotate(-90)" x="-7.49" y="5.91" font-size="17.14" textLength="14.96" lengthAdjust="spacingAndGlyphs">%</text>
<text class="b" x="891.04" y="540.05" font-size="14.56" textLength="9.13" lengthAdjust="spacingAndGlyphs">0</text>
<text class="r" x="920.47" y="415" font-size="16.58" textLength="145.53" lengthAdjust="spacingAndGlyphs">11. Androstenediol</text>
<text class="b" x="1663.24" y="406.82" font-size="14.08" textLength="88.03" lengthAdjust="spacingAndGlyphs">255.3—169.3</text>
<text class="b" x="1664.68" y="428.57" font-size="14.08" textLength="44.16" lengthAdjust="spacingAndGlyphs">3.74e4</text>
<text class="b" x="1338.47" y="397.2" font-size="14.84" textLength="15.67" lengthAdjust="spacingAndGlyphs">11</text>
</g>
<g>
<path d="M916.4,725.2 917.4,725.4 917.9,725.4 919.4,725.3 921.9,724.7 923.4,725.0 925.4,725.0 926.4,725.3 927.9,725.0 929.4,725.2 930.9,724.7 932.4,725.1 933.9,724.9 935.4,725.3 939.9,724.9 941.9,725.1 942.9,725.4 943.4,725.3 944.4,724.7 944.9,724.7 946.4,724.7 947.4,725.0 949.4,724.9 950.9,725.0 951.9,725.3 952.4,725.2 953.4,724.8 953.9,724.9 954.9,725.4 955.4,725.2 956.4,724.6 956.9,724.7 957.9,725.2 958.4,725.1 959.4,724.7 960.9,724.6 961.4,724.7 962.4,725.3 962.9,725.2 963.9,724.8 964.4,724.9 965.4,725.4 966.9,725.1 969.9,725.3 972.9,724.7 975.9,725.4 983.4,725.3 984.9,725.0 986.4,725.2 987.9,725.3 988.4,725.2 989.4,724.7 989.9,724.8 990.9,725.4 992.4,725.0 993.9,725.4 996.9,725.2 998.4,725.3 999.9,725.0 1002.9,725.2 1006.4,725.1 1007.9,725.0 1008.9,724.8 1009.4,724.9 1010.4,725.4 1010.9,725.2 1011.9,724.6 1015.4,725.0 1016.4,725.4 1019.4,725.3 1020.9,725.4 1021.4,725.3 1022.4,724.6 1023.9,724.9 1025.4,725.1 1027.4,724.9 1028.4,724.7 1028.9,724.8 1029.9,725.2 1034.4,725.1 1035.9,725.3 1037.9,725.0 1038.9,724.7 1039.9,724.7 1040.4,724.4 1040.9,724.3 1041.4,725.3 1041.9,725.5 1042.4,724.9 1042.9,724.9 1043.4,725.3 1043.9,724.9 1044.4,725.7 1044.9,725.1 1045.4,725.0 1045.9,724.4 1046.9,724.6 1047.4,725.1 1048.4,725.2 1048.9,724.4 1049.4,724.1 1050.4,725.0 1050.9,725.0 1051.4,724.4 1051.9,724.6 1053.4,723.8 1053.9,723.3 1054.4,722.4 1054.9,722.5 1055.4,721.6 1055.9,722.0 1056.4,721.7 1056.9,721.2 1057.4,721.0 1057.9,720.4 1058.4,720.4 1058.9,720.9 1059.4,720.8 1059.9,721.1 1060.9,722.2 1061.4,722.1 1061.9,723.0 1062.4,723.1 1062.9,724.2 1063.4,724.3 1063.9,725.0 1064.4,725.2 1064.9,724.6 1065.4,724.6 1065.9,724.9 1067.4,724.6 1067.9,725.3 1068.4,724.8 1068.9,724.8 1069.4,725.3 1070.4,724.9 1070.9,725.0 1071.9,725.4 1072.4,725.4 1073.4,724.9 1076.4,725.1 1077.9,724.6 1079.4,724.6 1081.4,724.9 1082.4,725.3 1084.4,725.2 1085.4,724.8 1086.9,725.1 1088.4,724.9 1089.9,725.2 1091.4,724.7 1091.9,724.8 1092.9,725.2 1094.4,725.3 1095.9,724.9 1097.4,724.7 1099.4,724.9 1100.4,725.4 1100.9,725.3 1101.9,724.8 1103.4,724.7 1105.4,724.8 1106.4,725.0 1107.9,725.0 1109.4,724.7 1109.9,724.7 1110.9,724.9 1112.9,724.9 1115.4,725.4 1117.4,725.1 1118.4,724.7 1119.9,724.8 1121.4,724.7 1121.9,724.7 1122.9,725.1 1124.9,725.0 1125.9,724.7 1127.4,725.1 1131.9,724.7 1132.4,724.8 1133.4,725.4 1135.4,725.3 1136.4,725.1 1139.4,725.4 1139.9,725.3 1140.9,724.8 1142.4,725.0 1143.9,724.6 1145.4,724.6 1145.9,724.7 1146.9,725.2 1147.4,725.1 1148.4,724.6 1148.9,724.7 1149.9,725.4 1153.4,725.1 1154.4,724.7 1155.9,725.0 1157.4,724.7 1157.9,724.8 1158.9,725.4 1160.9,725.0 1161.9,724.7 1163.4,725.0 1166.4,724.7 1166.9,724.8 1167.9,725.4 1169.9,725.1 1170.9,724.8 1171.4,724.9 1172.4,725.3 1172.9,725.2 1173.9,724.8 1174.4,724.9 1175.4,725.4 1179.9,724.7 1180.4,724.7 1181.4,725.1 1182.9,725.2 1184.4,725.0 1185.9,725.3 1187.4,725.4 1187.9,725.3 1188.9,724.7 1190.4,724.6 1190.9,724.7 1191.9,725.1 1194.9,725.4 1197.9,725.3 1199.4,725.4 1200.9,725.1 1203.9,724.9 1205.4,725.3 1206.9,725.3 1210.4,725.1 1211.4,724.9 1214.9,725.0 1215.9,725.2 1217.4,725.1 1219.4,725.4 1220.9,725.2 1221.9,724.7 1222.4,724.7 1223.9,724.7 1224.9,725.2 1225.4,725.1 1226.4,724.7 1226.9,724.7 1229.4,725.4 1229.9,725.3 1230.9,724.8 1231.4,724.9 1232.4,725.4 1235.4,724.8 1238.4,725.2 1239.9,724.9 1242.9,724.6 1243.4,724.7 1244.4,725.4 1245.9,725.0 1247.4,725.3 1247.9,725.2 1248.9,724.6 1251.9,725.0 1253.4,724.9 1254.9,725.1 1255.4,725.0 1256.4,724.6 1259.4,725.2 1259.9,725.2 1260.9,724.7 1262.4,725.0 1263.9,725.0 1267.4,724.7 1268.9,724.8 1269.9,725.2 1271.4,724.9 1272.9,724.8 1274.4,724.9 1275.9,724.7 1276.4,724.8 1277.4,725.3 1277.9,725.2 1278.9,724.7 1279.4,724.8 1280.4,725.4 1280.9,725.3 1281.9,724.9 1286.4,724.7 1286.9,724.8 1287.9,725.3 1288.4,725.2 1289.4,724.9 1293.9,724.8 1295.4,725.2 1296.9,724.8 1298.4,725.2 1298.9,725.2 1301.9,725.1 1304.4,724.6 1308.9,724.8 1310.4,725.1 1313.4,725.3 1313.9,725.2 1314.9,724.6 1315.4,724.7 1316.9,724.9 1317.9,725.4 1321.4,725.4 1322.4,725.2 1325.4,725.4 1328.4,725.0 1329.9,725.2 1330.4,725.1 1331.4,724.7 1333.4,725.0 1334.4,725.4 1334.9,725.3 1335.9,724.7 1336.4,724.8 1337.4,725.4 1337.9,725.4 1338.9,724.8 1339.4,724.9 1340.4,725.4 1340.9,725.4 1342.4,725.2 1343.4,724.7 1343.9,724.8 1344.9,725.1 1346.9,725.0 1347.9,725.4 1349.9,725.3 1350.9,725.0 1352.4,725.1 1353.9,725.0 1355.4,725.2 1355.9,725.2 1356.9,724.8 1357.4,724.8 1358.4,725.4 1358.9,725.4 1359.9,724.9 1361.4,724.6 1361.9,724.2 1362.4,723.5 1362.9,722.5 1363.4,721.0 1363.9,718.7 1364.4,715.3 1364.9,710.4 1365.9,695.8 1366.4,685.3 1368.9,620.7 1369.4,611.9 1369.9,606.9 1370.4,606.0 1370.9,608.4 1371.4,613.8 1371.9,621.4 1374.9,683.4 1375.9,699.9 1376.4,706.3 1377.4,715.4 1377.9,718.5 1378.4,720.7 1378.9,722.2 1379.4,723.3 1379.9,724.0 1380.9,724.7 1381.4,724.8 1382.4,724.7 1383.9,724.7 1384.4,724.8 1385.4,725.4 1385.9,725.4 1386.9,725.0 1390.4,725.1 1391.4,725.4 1391.9,725.3 1392.9,724.7 1393.4,724.8 1394.4,725.3 1394.9,725.3 1395.4,725.1 1395.9,724.2 1396.4,724.3 1396.9,724.9 1397.9,724.6 1398.4,724.7 1398.9,724.3 1399.4,725.0 1399.9,725.3 1400.4,724.5 1400.9,725.4 1401.4,724.3 1401.9,725.7 1402.4,725.7 1402.9,725.1 1403.4,723.9 1403.9,724.8 1404.4,723.6 1404.9,723.4 1405.4,723.8 1406.4,721.7 1406.9,721.1 1407.4,719.9 1407.9,719.3 1408.4,719.0 1408.9,717.4 1409.9,716.6 1410.4,718.0 1410.9,717.6 1411.4,718.6 1411.9,718.3 1413.4,721.9 1413.9,722.1 1414.4,722.6 1414.9,723.8 1415.4,723.5 1415.9,724.1 1416.4,724.2 1416.9,725.2 1417.9,725.7 1418.4,725.2 1418.9,724.4 1419.4,725.8 1419.9,725.7 1420.4,726.0 1420.9,726.1 1421.4,725.1 1421.9,725.9 1422.4,724.6 1422.9,725.7 1423.4,724.7 1423.9,725.3 1424.4,725.3 1424.9,725.5 1425.4,725.2 1425.9,724.5 1426.9,725.3 1427.4,724.7 1427.9,724.4 1429.4,724.9 1429.9,725.4 1430.4,724.1 1430.9,725.2 1431.4,724.9 1432.4,725.5 1432.9,725.2 1433.4,725.4 1433.9,725.3 1434.4,724.9 1434.9,724.9 1435.4,725.5 1435.9,724.8 1436.4,725.3 1436.9,725.4 1437.4,724.4 1437.9,724.4 1438.4,726.0 1438.9,724.6 1439.4,726.1 1439.9,724.5 1440.4,725.8 1440.9,724.5 1441.9,725.1 1442.4,725.2 1442.9,725.8 1443.9,723.8 1444.4,725.1 1444.9,724.9 1445.4,724.2 1445.9,724.1 1446.4,724.6 1446.9,724.4 1447.4,725.6 1447.9,724.3 1448.4,725.6 1449.4,724.6 1449.9,724.6 1450.4,725.5 1450.9,724.3 1451.4,723.9 1451.9,724.7 1452.9,725.7 1453.4,724.6 1453.9,724.1 1454.4,724.0 1454.9,724.3 1455.4,725.1 1455.8,724.3 1456.3,725.7 1456.8,725.7 1457.3,725.1 1457.8,725.0 1458.3,724.6 1458.8,725.0 1459.8,724.7 1460.3,725.9 1460.8,725.9 1461.8,724.1 1462.3,724.3 1462.8,724.7 1463.3,724.8 1463.8,724.1 1464.3,725.3 1464.8,724.4 1465.3,724.0 1466.3,724.8 1466.8,724.2 1467.3,724.0 1467.8,724.3 1468.3,725.2 1468.8,725.1 1469.3,725.4 1470.3,724.0 1470.8,724.9 1471.3,724.4 1471.8,722.7 1472.3,720.4 1472.8,719.3 1473.3,719.0 1473.8,718.6 1474.8,719.6 1475.3,721.3 1475.8,721.9 1476.3,723.0 1476.8,722.7 1477.3,723.9 1477.8,724.4 1478.3,724.3 1479.8,724.8 1480.3,724.1 1480.8,725.3 1481.3,724.6 1481.8,725.2 1482.3,725.2 1482.8,724.7 1483.3,725.4 1483.8,724.0 1484.3,725.1 1484.8,724.6 1485.3,725.5 1485.8,724.1 1486.3,725.6 1486.8,724.5 1487.3,725.3 1487.8,723.7 1488.3,724.7 1488.8,725.0 1489.3,725.0 1489.8,724.7 1490.3,725.2 1490.8,725.0 1491.3,723.5 1491.8,723.6 1492.3,724.4 1492.8,723.0 1493.3,724.6 1493.8,722.8 1494.3,723.1 1494.8,722.9 1495.3,722.6 1495.8,723.0 1496.3,722.4 1496.8,722.7 1497.3,721.4 1497.8,722.7 1498.3,720.8 1498.8,721.6 1499.3,721.9 1499.8,720.7 1500.3,721.6 1501.3,720.0 1501.8,720.2 1502.3,721.2 1502.8,721.0 1503.3,719.8 1503.8,720.2 1504.3,720.2 1505.8,719.2 1506.3,719.7 1507.8,720.4 1508.3,719.3 1508.8,718.6 1509.3,718.4 1509.8,718.7 1510.3,718.7 1510.8,719.4 1511.3,718.3 1512.3,719.7 1513.3,719.1 1513.8,718.3 1514.3,718.4 1514.8,717.9 1515.3,718.8 1516.3,719.5 1516.8,719.3 1517.3,717.5 1517.8,717.9 1518.3,717.8 1518.8,716.3 1519.3,716.2 1519.8,714.5 1520.3,713.5 1520.8,712.8 1521.3,714.4 1521.8,713.3 1522.3,715.6 1522.8,716.5 1523.3,716.0 1523.8,717.0 1524.3,718.6 1524.8,719.0 1525.3,719.0 1525.8,720.2 1526.3,719.1 1526.8,720.8 1527.3,720.3 1527.8,721.2 1528.3,721.0 1528.8,721.8 1529.3,720.7 1529.8,721.9 1530.3,722.1 1531.3,722.2 1531.8,721.3 1532.8,721.4 1533.3,722.5 1533.8,722.1 1534.3,722.7 1534.8,722.9 1535.3,722.7 1535.8,723.8 1536.3,724.0 1536.8,722.7 1537.3,722.5 1538.3,724.2 1538.8,724.4 1539.3,724.0 1539.8,723.0 1540.3,723.9 1540.8,724.3 1541.8,722.9 1542.3,724.0 1542.8,723.3 1543.3,724.5 1543.8,723.5 1544.8,723.9 1545.8,723.7 1546.3,724.7 1546.8,723.8 1547.3,724.0 1547.8,724.5 1548.3,724.4 1548.8,724.0 1549.8,725.0 1550.3,723.6 1550.8,724.8 1551.3,724.1 1552.8,724.8 1553.3,723.8 1553.8,724.5 1554.3,723.8 1554.8,724.5 1555.3,724.0 1555.8,725.5 1556.8,724.5 1557.3,724.5 1557.8,725.2 1558.3,723.9 1558.8,724.9 1559.3,724.1 1560.3,725.0 1560.8,725.2 1562.3,725.0 1563.8,725.3 1565.3,725.3 1565.8,725.2 1566.8,724.8 1567.3,724.8 1568.3,725.4 1569.8,725.2 1571.3,725.4 1573.3,725.3 1575.8,724.7 1576.3,724.8 1577.3,725.4 1577.8,725.3 1578.8,724.8 1581.8,724.6 1583.3,724.9 1584.8,725.0 1586.3,724.8 1588.3,724.9 1589.8,724.6 1592.8,724.8 1593.8,725.1 1595.3,724.9 1596.8,725.2 1598.3,724.9 1598.8,725.0 1599.8,725.4 1600.3,725.0 1657.8,725.0" stroke="#6e32fa" stroke-width="1.2" fill="none" stroke-linejoin="round"/>
<path d="M916.4,571.2V734.5M910.9,571.2H916.4M913.1,609.78H916.4M910.9,648.35H916.4M913.1,686.92H916.4M910.9,725.5H916.4M916.4,734.5H1763.75M916.4,734.5V741M969.36,734.5V738.1M1022.32,734.5V741M1075.28,734.5V738.1M1128.24,734.5V741M1181.2,734.5V738.1M1234.16,734.5V741M1287.12,734.5V738.1M1340.08,734.5V741M1393.03,734.5V738.1M1445.99,734.5V741M1498.95,734.5V738.1M1551.91,734.5V741M1604.87,734.5V738.1M1657.83,734.5V741M1710.79,734.5V738.1M1763.75,734.5V741" stroke="#000" stroke-width="1.4" fill="none" stroke-linecap="butt"/>
<text class="b" x="883.17" y="575.65" font-size="15.12" textLength="24.73" lengthAdjust="spacingAndGlyphs">100</text>
<text class="r" transform="translate(901.35,649.25) rotate(-90)" x="-7.77" y="6.26" font-size="18.14" textLength="15.53" lengthAdjust="spacingAndGlyphs">%</text>
<text class="b" x="902.06" y="727.66" font-size="13.71" textLength="8.9" lengthAdjust="spacingAndGlyphs">0</text>
<text class="r" x="920.51" y="593.2" font-size="17.16" textLength="76.41" lengthAdjust="spacingAndGlyphs">12. DHEA</text>
<text class="b" x="1658.99" y="592.82" font-size="14.08" textLength="75.28" lengthAdjust="spacingAndGlyphs">289.2—253</text>
<text class="b" x="1659.18" y="607.82" font-size="14.79" textLength="43.73" lengthAdjust="spacingAndGlyphs">3.87e5</text>
<text class="b" x="1359.99" y="604" font-size="15.77" textLength="17.95" lengthAdjust="spacingAndGlyphs">12</text>
</g>
<g>
<path d="M916.8,905.1 919.3,905.3 924.8,905.4 927.3,905.3 928.8,904.9 929.8,904.9 934.3,905.3 936.8,905.3 939.3,905.2 942.3,905.2 944.3,904.8 946.8,905.1 949.3,904.8 951.8,904.8 954.3,905.1 959.3,905.3 964.3,904.8 969.3,905.4 971.8,905.0 977.3,905.3 979.3,904.9 982.3,904.8 984.3,904.9 992.3,904.8 996.8,905.3 999.8,905.1 1004.3,905.3 1004.8,905.3 1006.8,904.8 1014.8,904.9 1016.8,905.1 1019.3,904.8 1024.3,905.1 1026.8,904.8 1029.3,905.1 1032.3,905.0 1034.3,905.2 1037.3,905.1 1041.8,905.4 1044.3,904.9 1047.3,905.0 1049.3,905.3 1052.3,904.9 1054.8,905.0 1056.8,905.4 1057.3,905.4 1059.3,905.0 1061.8,904.8 1064.3,905.3 1066.8,905.0 1069.8,904.9 1071.3,905.3 1072.3,905.4 1074.3,904.8 1077.3,905.1 1079.3,904.9 1081.8,905.0 1083.8,904.6 1084.8,904.2 1085.8,903.6 1086.8,902.8 1089.3,900.2 1090.3,899.7 1092.3,900.1 1094.8,901.2 1096.8,901.4 1099.8,901.9 1103.8,903.1 1107.3,903.7 1112.3,903.8 1121.8,903.2 1124.3,903.2 1125.3,902.9 1127.8,901.9 1129.3,901.6 1130.8,901.1 1131.8,901.1 1132.8,901.5 1134.3,902.5 1136.3,903.6 1138.8,904.8 1139.8,905.1 1142.3,905.1 1143.8,904.8 1144.8,904.8 1147.3,904.9 1149.3,905.3 1152.3,905.1 1154.3,904.8 1161.8,905.1 1169.3,905.2 1172.3,905.2 1174.3,905.0 1177.3,905.1 1179.8,904.9 1182.3,905.0 1184.3,905.4 1184.8,905.4 1186.8,904.9 1189.3,905.4 1189.8,905.4 1191.8,904.9 1194.8,904.9 1199.8,905.2 1209.3,904.8 1211.8,905.0 1214.8,904.8 1219.8,905.0 1221.8,904.8 1224.3,905.1 1227.3,904.9 1231.8,905.2 1233.8,904.9 1234.8,904.8 1236.8,905.3 1241.8,905.4 1244.8,905.3 1246.8,904.8 1249.3,905.3 1251.8,904.8 1254.3,905.1 1259.3,904.8 1259.8,904.8 1261.8,905.3 1264.3,905.4 1266.8,905.1 1269.8,905.4 1271.8,905.1 1274.3,905.0 1279.3,905.4 1279.8,905.4 1281.8,904.9 1286.8,905.2 1289.8,905.0 1291.8,905.3 1294.8,905.4 1299.8,905.3 1301.8,905.1 1304.3,905.2 1306.8,905.0 1309.8,905.1 1311.8,904.8 1312.3,904.8 1314.3,905.4 1319.3,905.1 1324.8,905.1 1326.8,905.0 1329.3,905.3 1330.3,905.2 1331.3,904.9 1332.3,904.3 1332.8,903.6 1333.8,901.3 1335.8,895.6 1336.3,894.9 1336.8,894.6 1337.8,895.0 1338.8,896.1 1341.8,901.0 1343.3,903.0 1344.3,903.9 1346.3,904.8 1347.8,905.0 1352.3,905.0 1354.3,905.3 1357.3,905.1 1359.3,904.8 1359.8,904.8 1361.8,905.4 1364.3,905.0 1367.3,905.0 1368.8,905.3 1369.8,905.3 1371.3,904.9 1372.8,904.6 1373.8,904.2 1374.3,903.9 1375.3,902.5 1375.8,901.3 1376.3,899.6 1376.8,897.2 1377.8,889.6 1378.3,884.3 1379.3,870.2 1381.3,832.3 1383.3,798.4 1384.3,787.2 1384.8,784.8 1385.8,785.8 1386.3,787.1 1386.8,791.6 1387.3,798.0 1387.8,799.6 1388.3,796.2 1388.8,795.0 1389.3,797.8 1391.3,819.0 1395.8,872.1 1396.8,881.6 1397.8,889.1 1398.8,894.8 1399.3,897.0 1400.3,900.3 1400.8,901.4 1401.8,903.0 1402.8,904.1 1403.8,904.8 1404.3,905.0 1405.3,905.2 1407.3,905.1 1409.3,904.9 1411.8,905.0 1414.3,904.9 1417.3,904.9 1419.8,904.9 1421.8,905.2 1424.3,905.3 1429.3,904.8 1431.8,904.8 1439.3,905.4 1441.8,904.9 1444.8,905.3 1446.8,904.8 1449.3,905.1 1452.3,905.2 1454.3,905.4 1456.8,905.2 1462.3,905.4 1466.8,904.8 1469.3,905.0 1472.3,904.9 1474.3,905.3 1476.8,905.4 1479.8,905.3 1481.8,904.8 1485.3,904.9 1487.3,905.0 1489.3,905.3 1491.8,905.4 1494.3,905.2 1497.3,905.2 1501.8,904.9 1504.3,905.4 1511.8,904.7 1514.3,905.2 1516.8,904.7 1519.3,905.1 1522.3,905.1 1524.3,904.7 1526.3,905.0 1527.3,905.0 1534.3,904.7 1536.8,904.3 1539.8,904.2 1544.8,903.8 1547.3,903.9 1549.3,904.3 1554.3,904.5 1557.3,904.5 1559.3,904.4 1562.3,904.5 1564.3,904.3 1564.8,904.4 1566.8,905.0 1569.3,904.9 1572.3,905.0 1574.3,904.8 1576.8,904.8 1579.3,905.0 1582.3,905.0 1584.3,905.4 1586.3,905.4 1589.8,905.3 1591.8,904.9 1594.3,905.2 1597.3,905.2 1599.3,905.3 1602.3,905.2 1604.3,904.8 1606.8,905.3 1609.3,904.8 1611.8,905.3 1614.3,904.9 1616.8,905.0 1621.8,904.8 1624.3,905.1 1629.3,905.0 1631.8,905.1 1634.8,905.1 1637.3,905.2 1641.8,905.0 1644.3,905.4 1649.3,905.1 1652.3,905.3 1654.3,904.9 1656.3,905.3" stroke="#de3c3c" stroke-width="1.2" fill="none" stroke-linejoin="round"/>
<path d="M916.8,755.9V915M911.3,755.9H916.8M913.5,793.25H916.8M911.3,830.6H916.8M913.5,867.95H916.8M911.3,905.3H916.8M916.8,915H1762M916.8,915V921.5M969.62,915V918.6M1022.45,915V921.5M1075.28,915V918.6M1128.1,915V921.5M1180.92,915V918.6M1233.75,915V921.5M1286.58,915V918.6M1339.4,915V921.5M1392.22,915V918.6M1445.05,915V921.5M1497.88,915V918.6M1550.7,915V921.5M1603.53,915V918.6M1656.35,915V921.5M1709.17,915V918.6M1762,915V921.5" stroke="#000" stroke-width="1.4" fill="none" stroke-linecap="butt"/>
<text class="b" x="883.02" y="761.55" font-size="15.12" textLength="26.23" lengthAdjust="spacingAndGlyphs">100</text>
<text class="r" transform="translate(902.4,830.35) rotate(-90)" x="-7.33" y="5.91" font-size="17.14" textLength="14.65" lengthAdjust="spacingAndGlyphs">%</text>
<text class="b" x="901.48" y="910.43" font-size="16.68" textLength="8.66" lengthAdjust="spacingAndGlyphs">0</text>
<text class="r" x="922.6" y="784" font-size="16.73" textLength="187.55" lengthAdjust="spacingAndGlyphs">14. 17OH-Pregnenolone</text>
<text class="b" x="1658.4" y="775.32" font-size="14.08" textLength="93.43" lengthAdjust="spacingAndGlyphs">333.3—297.2</text>
<text class="b" x="1657.46" y="791.82" font-size="14.08" textLength="47.35" lengthAdjust="spacingAndGlyphs">2.93e6</text>
<text class="b" x="1377.65" y="780.2" font-size="14.4" textLength="16.86" lengthAdjust="spacingAndGlyphs">14</text>
</g>
<g>
<path d="M916.8,1108.3 955.1,1108.3 957.5,1106.9 958.7,1107.8 960.1,1107.5 962.4,1108.1 963.5,1106.2 964.6,1107.9 965.8,1104.0 966.9,1107.7 968.0,1107.7 969.0,1107.4 970.1,1105.1 971.2,1107.4 972.1,1107.0 973.1,1107.5 974.0,1108.1 975.0,1107.9 976.3,1108.0 977.1,1104.7 978.3,1108.3 979.4,1102.6 980.5,1108.2 981.4,1107.7 982.3,1108.1 983.7,1106.3 984.8,1108.3 986.2,1108.3 987.2,1107.4 988.2,1103.9 989.5,1107.5 990.6,1107.6 991.8,1107.4 992.8,1107.7 993.7,1107.5 994.9,1108.0 996.3,1107.3 997.3,1107.7 998.7,1102.8 1000.0,1106.0 1001.4,1107.7 1002.4,1105.5 1003.5,1107.1 1004.4,1103.2 1005.6,1107.4 1006.7,1107.4 1009.2,1107.9 1010.0,1107.4 1011.2,1107.6 1012.1,1108.2 1013.1,1107.5 1014.6,1108.1 1016.0,1108.2 1017.3,1108.1 1018.2,1105.6 1019.6,1107.6 1020.6,1107.9 1021.8,1101.1 1023.1,1099.7 1023.9,1107.7 1025.2,1103.3 1026.3,1103.9 1027.7,1108.2 1028.5,1108.2 1029.4,1107.2 1030.3,1107.9 1031.3,1107.8 1032.7,1107.6 1033.9,1106.8 1035.3,1108.2 1036.5,1106.6 1037.8,1105.5 1039.0,1107.2 1040.2,1107.6 1041.7,1107.6 1042.8,1107.9 1044.1,1108.0 1045.4,1105.0 1046.4,1104.4 1047.4,1107.7 1050.4,1107.6 1051.7,1108.2 1053.0,1107.9 1054.0,1106.9 1055.1,1107.9 1056.2,1108.2 1057.4,1107.4 1058.5,1102.6 1059.4,1107.4 1060.4,1106.4 1061.8,1108.3 1062.9,1107.5 1064.4,1106.3 1065.5,1108.0 1066.4,1107.6 1067.8,1105.8 1069.2,1107.7 1070.7,1107.4 1071.8,1108.2 1072.7,1107.4 1073.7,1108.1 1074.7,1108.0 1075.5,1107.4 1077.0,1106.8 1077.9,1105.7 1079.1,1108.1 1081.7,1104.4 1083.0,1107.4 1083.9,1108.3 1085.0,1101.2 1086.3,1106.1 1087.5,1107.5 1088.7,1107.6 1089.5,1107.4 1090.7,1107.9 1092.1,1107.5 1093.2,1105.1 1094.2,1107.9 1095.2,1107.5 1096.1,1107.6 1097.3,1107.1 1098.6,1107.7 1099.5,1107.9 1100.3,1107.4 1101.4,1104.1 1102.4,1106.8 1103.5,1108.3 1105.0,1107.9 1106.4,1105.9 1107.6,1107.6 1108.5,1108.1 1109.7,1106.8 1110.5,1107.9 1111.8,1107.2 1113.7,1108.2 1114.7,1106.0 1115.9,1106.8 1117.1,1107.4 1118.0,1108.0 1119.4,1108.3 1120.7,1107.8 1122.1,1107.8 1123.2,1104.9 1124.6,1107.5 1125.8,1107.8 1127.1,1107.5 1128.5,1106.5 1129.6,1108.1 1130.5,1107.9 1131.9,1108.2 1132.9,1103.0 1134.0,1107.9 1136.3,1107.0 1137.3,1105.6 1138.1,1099.9 1139.2,1107.1 1140.1,1107.7 1141.1,1107.2 1142.3,1108.0 1143.4,1108.2 1144.5,1105.6 1145.5,1107.1 1146.6,1107.3 1147.8,1107.7 1148.7,1107.5 1149.6,1107.1 1150.5,1107.2 1151.6,1108.2 1152.6,1106.5 1153.8,1107.5 1154.8,1107.4 1155.7,1107.5 1156.9,1107.4 1158.0,1108.2 1159.2,1107.0 1160.2,1107.3 1161.2,1107.1 1162.5,1106.2 1163.7,1107.0 1165.2,1107.9 1166.3,1108.2 1167.5,1107.5 1168.8,1105.2 1170.0,1108.1 1171.2,1107.9 1174.0,1108.3 1175.1,1105.7 1176.5,1107.4 1177.9,1106.8 1179.0,1108.3 1180.4,1107.6 1181.8,1108.3 1183.1,1107.6 1184.0,1107.6 1186.3,1108.0 1188.7,1107.4 1189.7,1101.2 1190.8,1108.1 1191.8,1108.1 1193.1,1108.2 1194.4,1101.8 1195.3,1108.0 1196.5,1108.1 1197.5,1107.7 1198.9,1107.4 1200.4,1107.5 1201.7,1108.0 1203.0,1107.5 1205.5,1105.5 1206.7,1108.2 1208.2,1106.3 1209.1,1107.5 1210.3,1107.6 1211.2,1108.0 1212.2,1107.6 1213.4,1107.8 1214.4,1107.7 1215.0,1108.0 1216.3,1106.9 1217.5,1097.7 1217.5,1103.6 1218.4,1101.9 1219.2,1097.8 1219.5,1095.6 1220.2,1100.0 1221.0,1099.7 1221.7,1102.8 1222.6,1103.6 1223.0,1102.8 1224.0,1098.6 1224.8,1103.7 1226.0,1104.3 1227.6,1095.0 1229.0,1101.9 1230.2,1095.0 1231.7,1084.9 1232.5,1094.5 1233.0,1099.4 1233.3,1100.5 1234.6,1103.6 1235.0,1102.9 1235.9,1105.8 1237.1,1103.6 1238.0,1107.5 1238.2,1103.6 1239.6,1107.4 1241.0,1106.7 1241.9,1106.9 1242.7,1105.6 1244.1,1107.8 1245.2,1107.8 1246.7,1108.2 1248.1,1105.0 1249.1,1104.0 1250.3,1107.8 1251.7,1107.7 1252.7,1104.9 1253.9,1108.1 1255.0,1108.3 1255.8,1107.8 1257.0,1106.3 1258.5,1103.8 1259.7,1107.7 1261.2,1108.2 1262.4,1107.9 1263.8,1107.9 1265.2,1107.5 1266.7,1108.1 1267.8,1108.0 1268.7,1108.2 1269.7,1105.5 1270.6,1108.2 1271.9,1108.0 1272.9,1107.5 1275.2,1108.1 1276.4,1107.9 1277.9,1107.8 1280.3,1108.1 1281.4,1107.4 1282.5,1102.0 1283.8,1107.5 1285.2,1100.9 1286.5,1107.5 1287.5,1106.6 1288.5,1107.6 1289.7,1108.1 1290.0,1107.4 1290.8,1108.0 1291.8,1107.9 1293.1,1107.2 1294.3,1107.5 1295.3,1107.5 1298.1,1106.9 1299.0,1107.2 1300.0,1107.1 1300.1,1105.2 1301.5,1103.2 1302.4,1105.6 1303.4,1093.4 1303.8,1099.6 1304.5,1104.8 1305.0,1105.9 1306.0,1104.9 1308.0,1104.6 1308.2,1099.9 1308.8,1100.5 1309.0,1102.3 1310.0,1096.5 1310.0,1106.2 1311.0,1104.3 1312.0,1105.3 1313.4,1105.0 1315.0,1105.2 1315.7,1099.7 1316.6,1102.9 1317.0,1099.4 1318.0,1098.3 1319.4,1102.3 1320.0,1101.4 1321.1,1097.2 1321.7,1085.6 1322.5,1088.6 1323.0,1089.1 1323.5,1087.9 1324.1,1083.6 1324.9,1076.2 1325.4,1072.4 1326.2,1080.8 1326.5,1086.2 1327.2,1079.6 1328.0,1077.6 1328.6,1097.7 1329.6,1094.0 1330.0,1095.6 1331.0,1096.2 1331.3,1095.6 1332.2,1100.5 1333.0,1104.3 1333.1,1105.3 1334.2,1104.4 1335.5,1103.6 1336.6,1104.5 1337.0,1106.1 1338.8,1099.1 1339.3,1096.6 1339.8,1100.7 1340.2,1105.2 1340.9,1104.1 1342.2,1105.0 1343.1,1105.0 1345.0,1102.7 1345.7,1100.8 1346.6,1101.6 1347.4,1100.4 1348.0,1102.3 1349.0,1104.3 1349.1,1104.1 1350.5,1105.4 1352.0,1105.7 1353.1,1102.9 1354.5,1100.8 1355.0,1104.8 1355.7,1105.8 1356.6,1106.4 1357.8,1106.6 1359.0,1106.6 1360.5,1107.0 1361.9,1106.1 1362.0,1106.8 1363.4,1093.3 1364.0,1089.9 1364.6,1087.1 1365.0,1084.5 1365.5,1082.2 1366.0,1083.3 1367.7,1073.1 1367.9,1073.7 1368.5,1080.2 1369.2,1072.9 1370.4,1077.5 1370.5,1078.6 1371.5,1083.3 1371.8,1088.8 1372.6,1098.2 1372.9,1097.9 1373.9,1093.4 1374.7,1093.9 1376.3,1104.6 1377.5,1105.5 1378.9,1105.2 1380.0,1105.7 1380.0,1105.9 1381.0,1105.3 1382.3,1106.3 1384.8,1104.8 1385.6,1106.2 1386.9,1104.1 1388.3,1105.6 1389.7,1102.8 1390.8,1105.4 1391.8,1105.0 1393.0,1106.0 1394.3,1106.1 1395.2,1101.5 1396.7,1105.4 1397.8,1105.9 1398.7,1104.7 1399.5,1105.4 1400.0,1105.4 1400.8,1102.8 1402.0,1105.8 1403.1,1104.0 1403.9,1105.1 1405.4,1103.7 1406.0,1104.8 1406.8,1097.7 1407.4,1096.0 1408.1,1101.5 1408.5,1102.4 1409.2,1101.7 1410.0,1099.7 1410.4,1097.1 1411.0,1097.3 1411.7,1101.2 1412.5,1105.1 1412.7,1105.6 1413.8,1106.5 1415.0,1105.7 1416.2,1105.8 1417.3,1106.5 1418.6,1106.8 1420.0,1106.1 1420.1,1104.1 1421.2,1106.3 1422.4,1105.0 1423.7,1106.9 1425.1,1106.6 1426.5,1104.9 1427.4,1101.3 1428.5,1103.8 1428.7,1103.5 1429.4,1097.7 1430.1,1103.3 1430.5,1104.4 1431.5,1106.3 1432.4,1105.9 1433.2,1106.6 1434.4,1104.1 1435.5,1105.7 1436.4,1100.6 1436.6,1102.2 1437.5,1106.8 1438.0,1107.1 1438.8,1106.9 1439.8,1105.2 1441.0,1106.4 1442.4,1105.0 1442.5,1101.3 1443.3,1100.6 1444.5,1106.0 1444.9,1106.2 1446.2,1104.8 1446.5,1106.2 1448.8,1107.4 1450.0,1107.5 1451.2,1101.2 1452.3,1107.0 1453.3,1107.7 1454.4,1107.2 1455.2,1107.3 1456.2,1107.0 1457.0,1107.4 1457.0,1107.2 1458.0,1106.2 1458.9,1105.2 1459.4,1104.5 1460.3,1102.4 1461.0,1102.6 1461.3,1106.1 1462.5,1105.4 1463.5,1105.2 1464.6,1104.2 1465.6,1101.8 1465.9,1103.5 1467.0,1104.8 1468.8,1099.3 1470.0,1100.0 1470.0,1098.2 1471.2,1101.2 1472.0,1103.1 1472.0,1102.2 1473.1,1100.9 1473.9,1098.0 1474.4,1094.9 1474.7,1095.7 1475.5,1091.0 1476.0,1081.6 1479.0,1000.7 1481.0,974.5 1483.0,1008.3 1484.5,1045.3 1486.1,1082.1 1487.3,1084.9 1488.0,1087.1 1488.5,1079.6 1489.5,1075.0 1489.8,1074.2 1491.1,1088.8 1492.0,1092.5 1493.2,1093.4 1494.5,1096.9 1495.0,1101.4 1495.3,1094.8 1496.5,1091.8 1497.0,1086.0 1497.6,1087.8 1498.8,1096.6 1500.0,1099.2 1500.2,1099.3 1501.7,1094.7 1502.0,1092.2 1502.6,1092.5 1503.4,1087.6 1504.4,1089.0 1505.3,1089.7 1506.4,1091.4 1507.0,1088.5 1507.3,1090.7 1508.4,1080.5 1509.5,1078.8 1509.5,1077.9 1511.6,1087.5 1512.0,1086.6 1512.5,1089.6 1513.5,1084.3 1514.8,1087.7 1516.2,1089.5 1517.0,1089.5 1517.0,1091.6 1518.0,1067.7 1518.5,1059.4 1520.0,1044.4 1520.0,1044.8 1521.5,1029.0 1522.0,1029.9 1522.9,1026.6 1524.0,1057.5 1524.4,1060.1 1525.6,1072.0 1527.0,1082.8 1527.8,1079.5 1528.7,1078.5 1530.0,1076.3 1531.5,1087.4 1532.0,1089.6 1532.8,1088.0 1534.0,1074.2 1534.3,1076.5 1535.1,1072.1 1536.2,1067.2 1537.0,1063.8 1537.6,1066.6 1538.5,1061.3 1539.9,1069.4 1540.8,1084.3 1541.0,1082.9 1543.0,1099.0 1543.1,1097.7 1544.4,1096.5 1545.0,1092.3 1546.5,1057.3 1548.0,998.8 1548.6,980.3 1550.0,1013.3 1550.7,1050.3 1551.2,1005.3 1552.0,1042.3 1554.0,1086.3 1555.5,1104.4 1555.5,1105.2 1556.6,1101.2 1557.0,1098.4 1557.7,1101.0 1558.6,1102.8 1559.5,1106.0 1560.0,1107.2 1560.8,1104.1 1562.3,1100.7 1563.5,1096.4 1563.5,1097.5 1564.8,1100.1 1566.0,1101.5 1566.1,1103.2 1567.3,1104.4 1568.5,1104.1 1569.6,1106.1 1570.0,1107.0 1571.0,1105.2 1572.4,1105.4 1573.4,1104.6 1574.0,1103.0 1574.2,1104.4 1575.6,1105.1 1576.8,1105.8 1577.6,1106.0 1578.6,1106.9 1579.4,1105.9 1580.0,1107.7 1580.7,1107.3 1581.7,1106.4 1582.7,1106.8 1584.0,1107.8 1585.1,1107.8 1586.5,1107.5 1589.1,1107.5 1590.3,1107.4 1591.7,1107.7 1592.9,1108.1 1594.0,1107.8 1595.1,1106.4 1596.5,1107.4 1597.7,1107.1 1598.7,1108.2 1599.8,1107.7 1600.0,1107.0 1600.9,1108.1 1602.1,1108.2 1603.3,1107.8 1604.4,1108.2 1605.6,1108.2 1607.5,1107.8 1608.8,1108.3 1610.2,1108.0 1611.1,1108.1 1612.2,1108.0 1613.4,1108.3 1614.6,1108.3 1615.8,1108.1 1617.3,1108.1 1618.3,1107.9 1619.6,1108.3 1620.9,1108.2 1623.2,1108.2 1624.7,1108.0 1625.8,1108.3 1627.0,1108.2 1628.3,1107.9 1629.2,1108.2 1630.0,1108.2 1630.9,1107.9 1631.8,1108.3 1632.8,1107.8 1633.8,1108.0 1634.8,1108.0 1635.9,1108.2 1637.2,1108.0 1639.5,1108.2 1640.6,1107.8 1641.9,1108.1 1642.8,1108.2 1645.3,1108.1 1646.3,1108.3 1647.4,1107.8 1648.9,1108.1 1650.3,1108.3 1651.7,1108.2 1654.0,1108.3 1655.1,1108.0 1656.2,1108.2 1656.8,1108.1" stroke="#e13cf0" stroke-width="1.0" fill="none" stroke-linejoin="round"/>
<path d="M916.8,938.6V1120M911.3,938.6H916.8M913.5,981.2H916.8M911.3,1023.8H916.8M913.5,1066.4H916.8M911.3,1109H916.8M916.8,1120H1762.5M916.8,1120V1126.5M969.66,1120V1123.6M1022.51,1120V1126.5M1075.37,1120V1123.6M1128.22,1120V1126.5M1181.08,1120V1123.6M1233.94,1120V1126.5M1286.79,1120V1123.6M1339.65,1120V1126.5M1392.51,1120V1123.6M1445.36,1120V1126.5M1498.22,1120V1123.6M1551.08,1120V1126.5M1603.93,1120V1123.6M1656.79,1120V1126.5M1709.64,1120V1123.6M1762.5,1120V1126.5" stroke="#000" stroke-width="1.4" fill="none" stroke-linecap="butt"/>
<text class="b" x="885.88" y="943.62" font-size="18.23" textLength="24.52" lengthAdjust="spacingAndGlyphs">100</text>
<text class="r" transform="translate(902.05,1022.25) rotate(-90)" x="-7.9" y="6.26" font-size="18.14" textLength="15.8" lengthAdjust="spacingAndGlyphs">%</text>
<text class="b" x="904.93" y="1110.57" font-size="12.86" textLength="7.96" lengthAdjust="spacingAndGlyphs">0</text>
<text class="r" x="921.1" y="969.7" font-size="17.16" textLength="64.4" lengthAdjust="spacingAndGlyphs">15. DHT</text>
<text class="b" x="1660.73" y="957.85" font-size="14.84" textLength="77.2" lengthAdjust="spacingAndGlyphs">291.4—255</text>
<text class="b" x="1660.72" y="976.11" font-size="14.13" textLength="46.12" lengthAdjust="spacingAndGlyphs">2.27e4</text>
<text class="b" x="1471.59" y="969.43" font-size="17.35" textLength="17.99" lengthAdjust="spacingAndGlyphs">15</text>
</g>
<g>
<path d="M914.8,1326.5 1473.2,1326.5 1477.2,1326.4 1478.7,1326.0 1479.7,1325.2 1481.6,1322.3 1482.1,1321.8 1482.6,1321.7 1483.1,1321.8 1483.6,1322.1 1486.6,1325.2 1488.1,1326.1 1489.1,1326.4 1490.6,1326.5 1496.1,1326.4 1496.6,1326.1 1497.1,1325.4 1497.6,1323.6 1498.1,1319.5 1498.6,1311.2 1499.1,1296.8 1499.6,1274.7 1501.1,1185.5 1501.6,1168.8 1502.1,1167.9 1502.6,1178.4 1503.1,1197.5 1504.6,1270.2 1505.6,1303.6 1506.1,1313.3 1506.6,1319.4 1507.1,1322.9 1507.6,1324.8 1508.1,1325.8 1508.6,1326.2 1509.1,1326.4 1510.1,1326.5 1514.6,1326.4 1518.1,1325.8 1519.1,1325.7 1522.6,1326.4 1525.1,1326.5 1552.6,1326.4 1557.1,1325.9 1561.1,1326.4 1563.1,1326.5 1623.1,1326.5 1631.6,1326.5 1656.6,1326.5" stroke="#e88c46" stroke-width="1.2" fill="none" stroke-linejoin="round"/>
<path d="M914.75,1147.9V1336.2M909.25,1147.9H914.75M911.45,1192.43H914.75M909.25,1236.95H914.75M911.45,1281.47H914.75M909.25,1326H914.75M914.75,1336.2H1762.6M914.75,1336.2V1342.7M967.74,1336.2V1339.8M1020.73,1336.2V1342.7M1073.72,1336.2V1339.8M1126.71,1336.2V1342.7M1179.7,1336.2V1339.8M1232.69,1336.2V1342.7M1285.68,1336.2V1339.8M1338.67,1336.2V1342.7M1391.67,1336.2V1339.8M1444.66,1336.2V1342.7M1497.65,1336.2V1339.8M1550.64,1336.2V1342.7M1603.63,1336.2V1339.8M1656.62,1336.2V1342.7M1709.61,1336.2V1339.8M1762.6,1336.2V1342.7" stroke="#000" stroke-width="1.4" fill="none" stroke-linecap="butt"/>
<text class="b" x="881.77" y="1152.91" font-size="19.22" textLength="24.84" lengthAdjust="spacingAndGlyphs">100</text>
<text class="r" transform="translate(897.85,1235.35) rotate(-90)" x="-8.04" y="6.26" font-size="18.14" textLength="16.06" lengthAdjust="spacingAndGlyphs">%</text>
<text class="b" x="896.57" y="1326.82" font-size="17.53" textLength="8.78" lengthAdjust="spacingAndGlyphs">0</text>
<text class="r" x="921.99" y="1176.5" font-size="17.16" textLength="132.07" lengthAdjust="spacingAndGlyphs">16. progesterone</text>
<text class="b" x="1654.57" y="1172.58" font-size="17.32" textLength="67.38" lengthAdjust="spacingAndGlyphs">315.4—97</text>
<text class="b" x="1653.27" y="1191.03" font-size="13.66" textLength="45.97" lengthAdjust="spacingAndGlyphs">4.53e6</text>
<text class="b" x="1490.93" y="1164.82" font-size="17.67" textLength="17.25" lengthAdjust="spacingAndGlyphs">16</text>
</g>
<g>
<path d="M916.6,1528.5 917.1,1528.7 917.6,1528.7 920.6,1528.6 923.1,1528.3 926.1,1528.5 932.1,1528.4 934.6,1528.5 941.1,1528.4 944.1,1528.6 947.1,1528.4 950.6,1528.5 953.1,1528.7 956.1,1528.3 959.1,1528.7 964.6,1528.5 971.1,1528.6 974.1,1528.4 976.6,1528.6 983.1,1528.7 989.1,1528.3 995.1,1528.7 1004.1,1528.4 1013.1,1528.6 1016.1,1528.3 1019.1,1528.7 1028.1,1528.5 1034.1,1528.7 1040.1,1528.6 1042.6,1528.4 1049.1,1528.3 1052.1,1528.7 1063.6,1528.5 1067.1,1528.6 1070.1,1528.3 1076.1,1528.7 1078.6,1528.4 1082.1,1528.5 1088.1,1528.3 1090.6,1528.6 1093.6,1528.6 1100.1,1528.4 1103.1,1528.5 1106.1,1528.5 1109.1,1528.6 1112.1,1528.3 1115.1,1528.6 1118.1,1528.4 1121.1,1528.7 1127.1,1528.4 1130.1,1528.6 1133.1,1528.3 1135.6,1528.6 1138.6,1528.7 1142.1,1528.3 1145.1,1528.6 1148.1,1528.4 1166.1,1528.6 1168.6,1528.5 1172.1,1528.6 1178.1,1528.4 1181.1,1528.7 1187.1,1528.7 1193.1,1528.4 1199.1,1528.6 1208.1,1528.3 1214.0,1528.7 1220.0,1528.3 1226.0,1528.3 1229.0,1528.6 1241.0,1528.6 1247.0,1528.4 1250.0,1528.6 1252.5,1528.5 1259.0,1528.4 1268.0,1528.5 1271.0,1528.7 1274.0,1528.5 1286.0,1528.6 1289.0,1528.4 1291.5,1528.6 1298.0,1528.7 1301.5,1528.6 1304.0,1528.4 1307.0,1528.6 1310.0,1528.3 1313.0,1528.6 1322.0,1528.3 1324.5,1528.6 1328.0,1528.5 1331.0,1528.6 1337.0,1528.3 1343.0,1528.4 1346.0,1528.6 1349.0,1528.3 1355.0,1528.5 1361.0,1528.4 1364.0,1528.7 1366.5,1528.4 1372.5,1528.3 1380.0,1527.6 1382.0,1527.7 1385.5,1528.2 1396.0,1528.6 1397.5,1528.6 1400.0,1528.3 1406.0,1528.6 1409.5,1528.6 1412.0,1528.3 1414.5,1528.4 1418.5,1527.8 1420.5,1527.6 1424.0,1528.0 1426.5,1528.6 1427.5,1528.7 1430.0,1528.6 1433.0,1528.7 1436.0,1528.6 1439.0,1528.7 1442.0,1528.5 1445.0,1528.7 1451.0,1528.4 1453.5,1528.5 1454.5,1528.4 1457.0,1527.9 1459.0,1527.8 1462.5,1527.8 1465.5,1528.5 1469.0,1528.7 1472.0,1528.3 1484.0,1528.6 1487.0,1528.3 1490.0,1528.4 1491.5,1528.2 1492.5,1527.9 1493.5,1527.3 1496.0,1525.3 1497.0,1524.6 1497.5,1524.4 1498.5,1524.5 1499.0,1524.3 1499.5,1522.9 1500.0,1519.2 1500.5,1512.0 1501.0,1499.8 1501.5,1481.9 1503.0,1407.5 1503.5,1388.4 1504.0,1379.7 1504.5,1381.9 1505.0,1391.4 1505.5,1406.8 1507.5,1483.0 1508.5,1507.7 1509.0,1515.2 1509.5,1520.1 1510.0,1523.2 1510.5,1524.9 1511.0,1525.8 1511.5,1526.2 1512.5,1526.4 1516.0,1526.2 1519.0,1525.9 1520.5,1526.1 1522.0,1526.6 1522.5,1526.6 1523.0,1526.4 1523.5,1525.4 1524.0,1523.1 1524.5,1519.0 1526.0,1501.7 1526.5,1499.7 1527.0,1501.0 1527.5,1504.7 1529.0,1519.6 1529.5,1523.0 1530.0,1525.3 1530.5,1526.7 1531.0,1527.4 1532.0,1527.9 1535.5,1528.4 1544.0,1528.4 1547.0,1528.7 1550.0,1528.4 1562.0,1528.5 1568.0,1528.3 1571.5,1528.3 1574.0,1528.5 1580.0,1528.4 1586.5,1528.4 1595.0,1528.7 1601.0,1528.4 1603.5,1528.6 1607.0,1528.6 1616.0,1528.4 1619.0,1528.6 1622.0,1528.4 1625.5,1528.4 1628.0,1528.6 1634.0,1528.4 1636.5,1528.6 1640.0,1528.6 1643.0,1528.4 1648.5,1528.6 1655.0,1528.4 1659.5,1528.5" stroke="#282828" stroke-width="1.2" fill="none" stroke-linejoin="round"/>
<path d="M916.6,1368V1539.6M911.1,1368H916.6M913.3,1408.05H916.6M911.1,1448.1H916.6M913.3,1488.15H916.6M911.1,1528.2H916.6M916.6,1539.6H1765.6M916.6,1539.6V1546.8M969.66,1539.6V1543.2M1022.73,1539.6V1546.8M1075.79,1539.6V1543.2M1128.85,1539.6V1546.8M1181.91,1539.6V1543.2M1234.97,1539.6V1546.8M1288.04,1539.6V1543.2M1341.1,1539.6V1546.8M1394.16,1539.6V1543.2M1447.22,1539.6V1546.8M1500.29,1539.6V1543.2M1553.35,1539.6V1546.8M1606.41,1539.6V1543.2M1659.47,1539.6V1546.8M1712.54,1539.6V1543.2M1765.6,1539.6V1546.8" stroke="#000" stroke-width="1.4" fill="none" stroke-linecap="butt"/>
<text class="b" x="883.87" y="1372.03" font-size="17.24" textLength="24.73" lengthAdjust="spacingAndGlyphs">100</text>
<text class="r" transform="translate(899.55,1446.45) rotate(-90)" x="-7.23" y="5.67" font-size="16.43" textLength="14.45" lengthAdjust="spacingAndGlyphs">%</text>
<text class="b" x="898.13" y="1531.73" font-size="16.82" textLength="9.25" lengthAdjust="spacingAndGlyphs">0</text>
<text class="r" x="924.09" y="1388.6" font-size="17.75" textLength="137.46" lengthAdjust="spacingAndGlyphs">17. Pregnenolone</text>
<text class="b" x="1665.07" y="1374.89" font-size="16.62" textLength="87.44" lengthAdjust="spacingAndGlyphs">317.2—281.3</text>
<text class="b" x="1665.87" y="1393.29" font-size="16.62" textLength="44.66" lengthAdjust="spacingAndGlyphs">3.54e6</text>
<text class="b" x="1495.77" y="1378" font-size="17.6" textLength="18.26" lengthAdjust="spacingAndGlyphs">17</text>
</g>
<text class="b" x="33.24" y="1570.13" font-size="16.54" textLength="7.54" lengthAdjust="spacingAndGlyphs">0</text>
<text class="b" x="136.72" y="1570.3" font-size="17.02" textLength="7.76" lengthAdjust="spacingAndGlyphs">1</text>
<text class="b" x="240.88" y="1570.3" font-size="16.77" textLength="7.65" lengthAdjust="spacingAndGlyphs">2</text>
<text class="b" x="344.85" y="1570.09" font-size="16.48" textLength="7.52" lengthAdjust="spacingAndGlyphs">3</text>
<text class="b" x="448.41" y="1570.3" font-size="17.02" textLength="7.76" lengthAdjust="spacingAndGlyphs">4</text>
<text class="b" x="552.35" y="1570.13" font-size="16.77" textLength="7.65" lengthAdjust="spacingAndGlyphs">5</text>
<text class="b" x="656.25" y="1570.13" font-size="16.54" textLength="7.54" lengthAdjust="spacingAndGlyphs">6</text>
<text class="b" x="759.99" y="1570.3" font-size="17.02" textLength="7.76" lengthAdjust="spacingAndGlyphs">7</text>
<text class="b" x="863.92" y="1570.13" font-size="16.54" textLength="7.54" lengthAdjust="spacingAndGlyphs">8</text>
<text class="b" x="913.03" y="1568.44" font-size="16.11" textLength="7.35" lengthAdjust="spacingAndGlyphs">0</text>
<text class="b" x="1018.8" y="1568.6" font-size="16.58" textLength="7.56" lengthAdjust="spacingAndGlyphs">1</text>
<text class="b" x="1125.22" y="1568.6" font-size="16.34" textLength="7.45" lengthAdjust="spacingAndGlyphs">2</text>
<text class="b" x="1231.47" y="1568.4" font-size="16.06" textLength="7.32" lengthAdjust="spacingAndGlyphs">3</text>
<text class="b" x="1337.31" y="1568.6" font-size="16.58" textLength="7.56" lengthAdjust="spacingAndGlyphs">4</text>
<text class="b" x="1443.53" y="1568.44" font-size="16.34" textLength="7.45" lengthAdjust="spacingAndGlyphs">5</text>
<text class="b" x="1549.69" y="1568.44" font-size="16.11" textLength="7.35" lengthAdjust="spacingAndGlyphs">6</text>
<text class="b" x="1655.71" y="1568.6" font-size="16.58" textLength="7.56" lengthAdjust="spacingAndGlyphs">7</text>
<text class="b" x="1761.92" y="1568.44" font-size="16.11" textLength="7.35" lengthAdjust="spacingAndGlyphs">8</text>
<text class="b" x="420.46" y="1592.8" font-size="17.75" textLength="72.37" lengthAdjust="spacingAndGlyphs">Time (min)</text>
<text class="b" x="1312.96" y="1593.2" font-size="17.16" textLength="72.97" lengthAdjust="spacingAndGlyphs">Time (min)</text>
</svg></body></html>
